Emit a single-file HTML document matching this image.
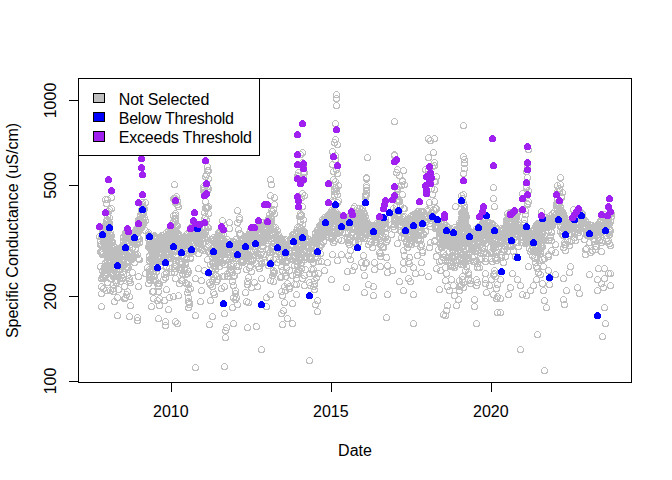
<!DOCTYPE html>
<html>
<head>
<meta charset="utf-8">
<title>Specific Conductance</title>
<style>
html, body { margin: 0; padding: 0; background: #ffffff; }
body { width: 672px; height: 480px; overflow: hidden; }
svg { display: block; }
text { font-family: "Liberation Sans", sans-serif; font-size: 16px; fill: #000000; }
</style>
</head>
<body>
<svg width="672" height="480" viewBox="0 0 672 480">
<rect x="0" y="0" width="672" height="480" fill="#ffffff"/>
<!-- data points -->
<defs><clipPath id="plotclip"><rect x="79" y="79" width="552" height="303"/></clipPath></defs>
<g clip-path="url(#plotclip)">
<g fill="none" stroke="#BEBEBE" stroke-width="1" shape-rendering="crispEdges">
<circle cx="100.5" cy="240.5" r="3"/><circle cx="99.5" cy="236.5" r="3"/><circle cx="100.5" cy="244.5" r="3"/><circle cx="100.5" cy="266.5" r="3"/><circle cx="100.5" cy="251.5" r="3"/><circle cx="101.5" cy="243.5" r="3"/><circle cx="101.5" cy="251.5" r="3"/><circle cx="101.5" cy="252.5" r="3"/><circle cx="102.5" cy="236.5" r="3"/><circle cx="101.5" cy="236.5" r="3"/><circle cx="102.5" cy="252.5" r="3"/><circle cx="102.5" cy="254.5" r="3"/><circle cx="102.5" cy="276.5" r="3"/><circle cx="102.5" cy="246.5" r="3"/><circle cx="102.5" cy="228.5" r="3"/><circle cx="102.5" cy="231.5" r="3"/><circle cx="103.5" cy="242.5" r="3"/><circle cx="102.5" cy="229.5" r="3"/><circle cx="103.5" cy="234.5" r="3"/><circle cx="104.5" cy="236.5" r="3"/><circle cx="103.5" cy="235.5" r="3"/><circle cx="104.5" cy="245.5" r="3"/><circle cx="104.5" cy="227.5" r="3"/><circle cx="104.5" cy="226.5" r="3"/><circle cx="103.5" cy="240.5" r="3"/><circle cx="103.5" cy="253.5" r="3"/><circle cx="104.5" cy="226.5" r="3"/><circle cx="103.5" cy="278.5" r="3"/><circle cx="104.5" cy="268.5" r="3"/><circle cx="105.5" cy="226.5" r="3"/><circle cx="104.5" cy="236.5" r="3"/><circle cx="104.5" cy="225.5" r="3"/><circle cx="105.5" cy="246.5" r="3"/><circle cx="104.5" cy="233.5" r="3"/><circle cx="105.5" cy="244.5" r="3"/><circle cx="105.5" cy="239.5" r="3"/><circle cx="105.5" cy="227.5" r="3"/><circle cx="105.5" cy="275.5" r="3"/><circle cx="105.5" cy="245.5" r="3"/><circle cx="105.5" cy="263.5" r="3"/><circle cx="105.5" cy="262.5" r="3"/><circle cx="105.5" cy="224.5" r="3"/><circle cx="106.5" cy="229.5" r="3"/><circle cx="105.5" cy="227.5" r="3"/><circle cx="106.5" cy="265.5" r="3"/><circle cx="106.5" cy="237.5" r="3"/><circle cx="106.5" cy="224.5" r="3"/><circle cx="107.5" cy="245.5" r="3"/><circle cx="107.5" cy="245.5" r="3"/><circle cx="107.5" cy="248.5" r="3"/><circle cx="107.5" cy="220.5" r="3"/><circle cx="107.5" cy="251.5" r="3"/><circle cx="106.5" cy="220.5" r="3"/><circle cx="106.5" cy="245.5" r="3"/><circle cx="107.5" cy="256.5" r="3"/><circle cx="107.5" cy="219.5" r="3"/><circle cx="106.5" cy="268.5" r="3"/><circle cx="107.5" cy="238.5" r="3"/><circle cx="108.5" cy="237.5" r="3"/><circle cx="108.5" cy="230.5" r="3"/><circle cx="107.5" cy="227.5" r="3"/><circle cx="108.5" cy="237.5" r="3"/><circle cx="107.5" cy="234.5" r="3"/><circle cx="107.5" cy="247.5" r="3"/><circle cx="108.5" cy="237.5" r="3"/><circle cx="108.5" cy="237.5" r="3"/><circle cx="107.5" cy="226.5" r="3"/><circle cx="108.5" cy="254.5" r="3"/><circle cx="107.5" cy="230.5" r="3"/><circle cx="107.5" cy="260.5" r="3"/><circle cx="108.5" cy="228.5" r="3"/><circle cx="107.5" cy="255.5" r="3"/><circle cx="107.5" cy="250.5" r="3"/><circle cx="108.5" cy="246.5" r="3"/><circle cx="107.5" cy="273.5" r="3"/><circle cx="108.5" cy="227.5" r="3"/><circle cx="109.5" cy="246.5" r="3"/><circle cx="108.5" cy="251.5" r="3"/><circle cx="109.5" cy="225.5" r="3"/><circle cx="108.5" cy="221.5" r="3"/><circle cx="108.5" cy="230.5" r="3"/><circle cx="108.5" cy="224.5" r="3"/><circle cx="108.5" cy="245.5" r="3"/><circle cx="109.5" cy="222.5" r="3"/><circle cx="109.5" cy="227.5" r="3"/><circle cx="110.5" cy="257.5" r="3"/><circle cx="109.5" cy="254.5" r="3"/><circle cx="110.5" cy="235.5" r="3"/><circle cx="109.5" cy="250.5" r="3"/><circle cx="110.5" cy="251.5" r="3"/><circle cx="109.5" cy="248.5" r="3"/><circle cx="110.5" cy="237.5" r="3"/><circle cx="109.5" cy="253.5" r="3"/><circle cx="109.5" cy="244.5" r="3"/><circle cx="110.5" cy="238.5" r="3"/><circle cx="111.5" cy="260.5" r="3"/><circle cx="110.5" cy="237.5" r="3"/><circle cx="110.5" cy="252.5" r="3"/><circle cx="110.5" cy="232.5" r="3"/><circle cx="111.5" cy="241.5" r="3"/><circle cx="111.5" cy="252.5" r="3"/><circle cx="110.5" cy="290.5" r="3"/><circle cx="112.5" cy="247.5" r="3"/><circle cx="111.5" cy="255.5" r="3"/><circle cx="111.5" cy="235.5" r="3"/><circle cx="111.5" cy="262.5" r="3"/><circle cx="111.5" cy="235.5" r="3"/><circle cx="111.5" cy="245.5" r="3"/><circle cx="112.5" cy="247.5" r="3"/><circle cx="113.5" cy="245.5" r="3"/><circle cx="112.5" cy="241.5" r="3"/><circle cx="112.5" cy="272.5" r="3"/><circle cx="114.5" cy="260.5" r="3"/><circle cx="114.5" cy="252.5" r="3"/><circle cx="113.5" cy="261.5" r="3"/><circle cx="114.5" cy="275.5" r="3"/><circle cx="113.5" cy="291.5" r="3"/><circle cx="115.5" cy="247.5" r="3"/><circle cx="115.5" cy="260.5" r="3"/><circle cx="115.5" cy="253.5" r="3"/><circle cx="114.5" cy="264.5" r="3"/><circle cx="115.5" cy="258.5" r="3"/><circle cx="115.5" cy="250.5" r="3"/><circle cx="115.5" cy="256.5" r="3"/><circle cx="115.5" cy="261.5" r="3"/><circle cx="115.5" cy="256.5" r="3"/><circle cx="116.5" cy="274.5" r="3"/><circle cx="116.5" cy="256.5" r="3"/><circle cx="117.5" cy="250.5" r="3"/><circle cx="117.5" cy="257.5" r="3"/><circle cx="116.5" cy="259.5" r="3"/><circle cx="117.5" cy="255.5" r="3"/><circle cx="117.5" cy="259.5" r="3"/><circle cx="117.5" cy="251.5" r="3"/><circle cx="117.5" cy="297.5" r="3"/><circle cx="117.5" cy="315.5" r="3"/><circle cx="117.5" cy="255.5" r="3"/><circle cx="117.5" cy="254.5" r="3"/><circle cx="117.5" cy="253.5" r="3"/><circle cx="117.5" cy="249.5" r="3"/><circle cx="118.5" cy="252.5" r="3"/><circle cx="118.5" cy="265.5" r="3"/><circle cx="118.5" cy="250.5" r="3"/><circle cx="118.5" cy="265.5" r="3"/><circle cx="118.5" cy="256.5" r="3"/><circle cx="118.5" cy="269.5" r="3"/><circle cx="118.5" cy="254.5" r="3"/><circle cx="119.5" cy="252.5" r="3"/><circle cx="118.5" cy="253.5" r="3"/><circle cx="119.5" cy="256.5" r="3"/><circle cx="118.5" cy="249.5" r="3"/><circle cx="118.5" cy="258.5" r="3"/><circle cx="118.5" cy="253.5" r="3"/><circle cx="118.5" cy="256.5" r="3"/><circle cx="119.5" cy="250.5" r="3"/><circle cx="118.5" cy="248.5" r="3"/><circle cx="119.5" cy="264.5" r="3"/><circle cx="120.5" cy="262.5" r="3"/><circle cx="119.5" cy="259.5" r="3"/><circle cx="119.5" cy="263.5" r="3"/><circle cx="121.5" cy="247.5" r="3"/><circle cx="120.5" cy="247.5" r="3"/><circle cx="121.5" cy="259.5" r="3"/><circle cx="120.5" cy="247.5" r="3"/><circle cx="121.5" cy="251.5" r="3"/><circle cx="122.5" cy="264.5" r="3"/><circle cx="121.5" cy="261.5" r="3"/><circle cx="122.5" cy="248.5" r="3"/><circle cx="121.5" cy="256.5" r="3"/><circle cx="121.5" cy="247.5" r="3"/><circle cx="121.5" cy="254.5" r="3"/><circle cx="121.5" cy="249.5" r="3"/><circle cx="122.5" cy="245.5" r="3"/><circle cx="122.5" cy="250.5" r="3"/><circle cx="122.5" cy="277.5" r="3"/><circle cx="123.5" cy="240.5" r="3"/><circle cx="123.5" cy="259.5" r="3"/><circle cx="123.5" cy="251.5" r="3"/><circle cx="123.5" cy="265.5" r="3"/><circle cx="123.5" cy="246.5" r="3"/><circle cx="124.5" cy="254.5" r="3"/><circle cx="123.5" cy="236.5" r="3"/><circle cx="124.5" cy="247.5" r="3"/><circle cx="123.5" cy="237.5" r="3"/><circle cx="123.5" cy="247.5" r="3"/><circle cx="125.5" cy="236.5" r="3"/><circle cx="125.5" cy="238.5" r="3"/><circle cx="125.5" cy="241.5" r="3"/><circle cx="125.5" cy="251.5" r="3"/><circle cx="125.5" cy="241.5" r="3"/><circle cx="125.5" cy="238.5" r="3"/><circle cx="125.5" cy="254.5" r="3"/><circle cx="124.5" cy="298.5" r="3"/><circle cx="126.5" cy="237.5" r="3"/><circle cx="126.5" cy="236.5" r="3"/><circle cx="125.5" cy="246.5" r="3"/><circle cx="125.5" cy="249.5" r="3"/><circle cx="125.5" cy="232.5" r="3"/><circle cx="127.5" cy="232.5" r="3"/><circle cx="127.5" cy="242.5" r="3"/><circle cx="126.5" cy="232.5" r="3"/><circle cx="127.5" cy="231.5" r="3"/><circle cx="127.5" cy="275.5" r="3"/><circle cx="127.5" cy="240.5" r="3"/><circle cx="127.5" cy="234.5" r="3"/><circle cx="128.5" cy="240.5" r="3"/><circle cx="127.5" cy="240.5" r="3"/><circle cx="127.5" cy="254.5" r="3"/><circle cx="128.5" cy="256.5" r="3"/><circle cx="127.5" cy="242.5" r="3"/><circle cx="128.5" cy="260.5" r="3"/><circle cx="128.5" cy="267.5" r="3"/><circle cx="129.5" cy="237.5" r="3"/><circle cx="128.5" cy="242.5" r="3"/><circle cx="128.5" cy="242.5" r="3"/><circle cx="128.5" cy="237.5" r="3"/><circle cx="129.5" cy="242.5" r="3"/><circle cx="129.5" cy="256.5" r="3"/><circle cx="128.5" cy="262.5" r="3"/><circle cx="130.5" cy="234.5" r="3"/><circle cx="129.5" cy="242.5" r="3"/><circle cx="129.5" cy="251.5" r="3"/><circle cx="130.5" cy="238.5" r="3"/><circle cx="129.5" cy="242.5" r="3"/><circle cx="130.5" cy="244.5" r="3"/><circle cx="131.5" cy="254.5" r="3"/><circle cx="131.5" cy="240.5" r="3"/><circle cx="132.5" cy="242.5" r="3"/><circle cx="131.5" cy="236.5" r="3"/><circle cx="132.5" cy="272.5" r="3"/><circle cx="132.5" cy="242.5" r="3"/><circle cx="132.5" cy="247.5" r="3"/><circle cx="134.5" cy="241.5" r="3"/><circle cx="133.5" cy="236.5" r="3"/><circle cx="133.5" cy="233.5" r="3"/><circle cx="134.5" cy="238.5" r="3"/><circle cx="133.5" cy="237.5" r="3"/><circle cx="133.5" cy="232.5" r="3"/><circle cx="134.5" cy="238.5" r="3"/><circle cx="133.5" cy="239.5" r="3"/><circle cx="133.5" cy="255.5" r="3"/><circle cx="134.5" cy="262.5" r="3"/><circle cx="134.5" cy="243.5" r="3"/><circle cx="134.5" cy="241.5" r="3"/><circle cx="135.5" cy="234.5" r="3"/><circle cx="134.5" cy="235.5" r="3"/><circle cx="134.5" cy="234.5" r="3"/><circle cx="135.5" cy="254.5" r="3"/><circle cx="135.5" cy="231.5" r="3"/><circle cx="136.5" cy="242.5" r="3"/><circle cx="135.5" cy="248.5" r="3"/><circle cx="136.5" cy="244.5" r="3"/><circle cx="137.5" cy="236.5" r="3"/><circle cx="136.5" cy="228.5" r="3"/><circle cx="137.5" cy="228.5" r="3"/><circle cx="137.5" cy="243.5" r="3"/><circle cx="137.5" cy="230.5" r="3"/><circle cx="138.5" cy="228.5" r="3"/><circle cx="138.5" cy="238.5" r="3"/><circle cx="137.5" cy="228.5" r="3"/><circle cx="138.5" cy="229.5" r="3"/><circle cx="138.5" cy="258.5" r="3"/><circle cx="139.5" cy="222.5" r="3"/><circle cx="138.5" cy="225.5" r="3"/><circle cx="138.5" cy="223.5" r="3"/><circle cx="139.5" cy="219.5" r="3"/><circle cx="138.5" cy="219.5" r="3"/><circle cx="139.5" cy="238.5" r="3"/><circle cx="139.5" cy="219.5" r="3"/><circle cx="139.5" cy="230.5" r="3"/><circle cx="139.5" cy="228.5" r="3"/><circle cx="138.5" cy="231.5" r="3"/><circle cx="139.5" cy="224.5" r="3"/><circle cx="139.5" cy="227.5" r="3"/><circle cx="138.5" cy="230.5" r="3"/><circle cx="139.5" cy="221.5" r="3"/><circle cx="139.5" cy="259.5" r="3"/><circle cx="139.5" cy="242.5" r="3"/><circle cx="139.5" cy="225.5" r="3"/><circle cx="140.5" cy="214.5" r="3"/><circle cx="139.5" cy="225.5" r="3"/><circle cx="140.5" cy="218.5" r="3"/><circle cx="141.5" cy="212.5" r="3"/><circle cx="141.5" cy="227.5" r="3"/><circle cx="141.5" cy="222.5" r="3"/><circle cx="142.5" cy="219.5" r="3"/><circle cx="142.5" cy="217.5" r="3"/><circle cx="142.5" cy="224.5" r="3"/><circle cx="142.5" cy="224.5" r="3"/><circle cx="143.5" cy="213.5" r="3"/><circle cx="143.5" cy="223.5" r="3"/><circle cx="142.5" cy="213.5" r="3"/><circle cx="143.5" cy="222.5" r="3"/><circle cx="144.5" cy="217.5" r="3"/><circle cx="143.5" cy="220.5" r="3"/><circle cx="145.5" cy="220.5" r="3"/><circle cx="145.5" cy="230.5" r="3"/><circle cx="148.5" cy="232.5" r="3"/><circle cx="148.5" cy="238.5" r="3"/><circle cx="148.5" cy="234.5" r="3"/><circle cx="148.5" cy="246.5" r="3"/><circle cx="149.5" cy="242.5" r="3"/><circle cx="149.5" cy="255.5" r="3"/><circle cx="149.5" cy="274.5" r="3"/><circle cx="150.5" cy="235.5" r="3"/><circle cx="150.5" cy="243.5" r="3"/><circle cx="149.5" cy="246.5" r="3"/><circle cx="149.5" cy="246.5" r="3"/><circle cx="150.5" cy="239.5" r="3"/><circle cx="149.5" cy="260.5" r="3"/><circle cx="149.5" cy="256.5" r="3"/><circle cx="150.5" cy="245.5" r="3"/><circle cx="150.5" cy="248.5" r="3"/><circle cx="151.5" cy="250.5" r="3"/><circle cx="151.5" cy="251.5" r="3"/><circle cx="150.5" cy="258.5" r="3"/><circle cx="151.5" cy="251.5" r="3"/><circle cx="151.5" cy="249.5" r="3"/><circle cx="151.5" cy="258.5" r="3"/><circle cx="151.5" cy="242.5" r="3"/><circle cx="152.5" cy="242.5" r="3"/><circle cx="152.5" cy="252.5" r="3"/><circle cx="151.5" cy="259.5" r="3"/><circle cx="152.5" cy="264.5" r="3"/><circle cx="151.5" cy="251.5" r="3"/><circle cx="152.5" cy="240.5" r="3"/><circle cx="151.5" cy="269.5" r="3"/><circle cx="152.5" cy="271.5" r="3"/><circle cx="151.5" cy="306.5" r="3"/><circle cx="153.5" cy="236.5" r="3"/><circle cx="153.5" cy="266.5" r="3"/><circle cx="152.5" cy="242.5" r="3"/><circle cx="153.5" cy="237.5" r="3"/><circle cx="152.5" cy="253.5" r="3"/><circle cx="153.5" cy="260.5" r="3"/><circle cx="153.5" cy="238.5" r="3"/><circle cx="152.5" cy="243.5" r="3"/><circle cx="153.5" cy="265.5" r="3"/><circle cx="152.5" cy="251.5" r="3"/><circle cx="152.5" cy="256.5" r="3"/><circle cx="153.5" cy="276.5" r="3"/><circle cx="153.5" cy="255.5" r="3"/><circle cx="154.5" cy="235.5" r="3"/><circle cx="154.5" cy="261.5" r="3"/><circle cx="154.5" cy="247.5" r="3"/><circle cx="154.5" cy="238.5" r="3"/><circle cx="154.5" cy="258.5" r="3"/><circle cx="153.5" cy="248.5" r="3"/><circle cx="154.5" cy="253.5" r="3"/><circle cx="153.5" cy="244.5" r="3"/><circle cx="153.5" cy="258.5" r="3"/><circle cx="153.5" cy="270.5" r="3"/><circle cx="155.5" cy="239.5" r="3"/><circle cx="154.5" cy="236.5" r="3"/><circle cx="154.5" cy="263.5" r="3"/><circle cx="154.5" cy="257.5" r="3"/><circle cx="155.5" cy="261.5" r="3"/><circle cx="154.5" cy="244.5" r="3"/><circle cx="154.5" cy="237.5" r="3"/><circle cx="156.5" cy="241.5" r="3"/><circle cx="155.5" cy="246.5" r="3"/><circle cx="155.5" cy="246.5" r="3"/><circle cx="155.5" cy="258.5" r="3"/><circle cx="155.5" cy="236.5" r="3"/><circle cx="156.5" cy="259.5" r="3"/><circle cx="155.5" cy="239.5" r="3"/><circle cx="156.5" cy="247.5" r="3"/><circle cx="155.5" cy="248.5" r="3"/><circle cx="156.5" cy="271.5" r="3"/><circle cx="156.5" cy="253.5" r="3"/><circle cx="156.5" cy="259.5" r="3"/><circle cx="157.5" cy="240.5" r="3"/><circle cx="156.5" cy="268.5" r="3"/><circle cx="157.5" cy="244.5" r="3"/><circle cx="157.5" cy="249.5" r="3"/><circle cx="156.5" cy="265.5" r="3"/><circle cx="156.5" cy="266.5" r="3"/><circle cx="156.5" cy="266.5" r="3"/><circle cx="156.5" cy="250.5" r="3"/><circle cx="158.5" cy="261.5" r="3"/><circle cx="158.5" cy="258.5" r="3"/><circle cx="158.5" cy="253.5" r="3"/><circle cx="158.5" cy="239.5" r="3"/><circle cx="157.5" cy="242.5" r="3"/><circle cx="157.5" cy="238.5" r="3"/><circle cx="158.5" cy="283.5" r="3"/><circle cx="157.5" cy="283.5" r="3"/><circle cx="157.5" cy="300.5" r="3"/><circle cx="158.5" cy="246.5" r="3"/><circle cx="159.5" cy="259.5" r="3"/><circle cx="158.5" cy="240.5" r="3"/><circle cx="159.5" cy="243.5" r="3"/><circle cx="158.5" cy="245.5" r="3"/><circle cx="159.5" cy="252.5" r="3"/><circle cx="158.5" cy="242.5" r="3"/><circle cx="159.5" cy="237.5" r="3"/><circle cx="158.5" cy="257.5" r="3"/><circle cx="159.5" cy="283.5" r="3"/><circle cx="159.5" cy="245.5" r="3"/><circle cx="159.5" cy="258.5" r="3"/><circle cx="160.5" cy="265.5" r="3"/><circle cx="160.5" cy="236.5" r="3"/><circle cx="159.5" cy="258.5" r="3"/><circle cx="160.5" cy="244.5" r="3"/><circle cx="159.5" cy="246.5" r="3"/><circle cx="159.5" cy="240.5" r="3"/><circle cx="161.5" cy="260.5" r="3"/><circle cx="160.5" cy="237.5" r="3"/><circle cx="160.5" cy="248.5" r="3"/><circle cx="160.5" cy="238.5" r="3"/><circle cx="160.5" cy="242.5" r="3"/><circle cx="161.5" cy="235.5" r="3"/><circle cx="161.5" cy="239.5" r="3"/><circle cx="160.5" cy="239.5" r="3"/><circle cx="162.5" cy="241.5" r="3"/><circle cx="162.5" cy="252.5" r="3"/><circle cx="162.5" cy="241.5" r="3"/><circle cx="162.5" cy="254.5" r="3"/><circle cx="162.5" cy="243.5" r="3"/><circle cx="162.5" cy="239.5" r="3"/><circle cx="163.5" cy="255.5" r="3"/><circle cx="163.5" cy="259.5" r="3"/><circle cx="163.5" cy="241.5" r="3"/><circle cx="163.5" cy="244.5" r="3"/><circle cx="162.5" cy="245.5" r="3"/><circle cx="163.5" cy="242.5" r="3"/><circle cx="162.5" cy="248.5" r="3"/><circle cx="162.5" cy="237.5" r="3"/><circle cx="163.5" cy="240.5" r="3"/><circle cx="164.5" cy="244.5" r="3"/><circle cx="163.5" cy="244.5" r="3"/><circle cx="164.5" cy="262.5" r="3"/><circle cx="164.5" cy="257.5" r="3"/><circle cx="163.5" cy="248.5" r="3"/><circle cx="163.5" cy="242.5" r="3"/><circle cx="163.5" cy="255.5" r="3"/><circle cx="164.5" cy="237.5" r="3"/><circle cx="165.5" cy="246.5" r="3"/><circle cx="165.5" cy="260.5" r="3"/><circle cx="165.5" cy="325.5" r="3"/><circle cx="165.5" cy="252.5" r="3"/><circle cx="166.5" cy="251.5" r="3"/><circle cx="166.5" cy="232.5" r="3"/><circle cx="165.5" cy="243.5" r="3"/><circle cx="166.5" cy="249.5" r="3"/><circle cx="165.5" cy="247.5" r="3"/><circle cx="165.5" cy="240.5" r="3"/><circle cx="165.5" cy="277.5" r="3"/><circle cx="166.5" cy="266.5" r="3"/><circle cx="167.5" cy="234.5" r="3"/><circle cx="166.5" cy="244.5" r="3"/><circle cx="167.5" cy="243.5" r="3"/><circle cx="166.5" cy="247.5" r="3"/><circle cx="167.5" cy="244.5" r="3"/><circle cx="167.5" cy="251.5" r="3"/><circle cx="167.5" cy="251.5" r="3"/><circle cx="167.5" cy="249.5" r="3"/><circle cx="168.5" cy="244.5" r="3"/><circle cx="168.5" cy="258.5" r="3"/><circle cx="168.5" cy="248.5" r="3"/><circle cx="168.5" cy="245.5" r="3"/><circle cx="168.5" cy="244.5" r="3"/><circle cx="168.5" cy="254.5" r="3"/><circle cx="167.5" cy="252.5" r="3"/><circle cx="167.5" cy="257.5" r="3"/><circle cx="168.5" cy="235.5" r="3"/><circle cx="169.5" cy="235.5" r="3"/><circle cx="168.5" cy="230.5" r="3"/><circle cx="168.5" cy="231.5" r="3"/><circle cx="168.5" cy="257.5" r="3"/><circle cx="169.5" cy="258.5" r="3"/><circle cx="168.5" cy="242.5" r="3"/><circle cx="169.5" cy="253.5" r="3"/><circle cx="169.5" cy="262.5" r="3"/><circle cx="169.5" cy="244.5" r="3"/><circle cx="169.5" cy="233.5" r="3"/><circle cx="169.5" cy="239.5" r="3"/><circle cx="170.5" cy="226.5" r="3"/><circle cx="169.5" cy="232.5" r="3"/><circle cx="170.5" cy="244.5" r="3"/><circle cx="169.5" cy="237.5" r="3"/><circle cx="170.5" cy="245.5" r="3"/><circle cx="170.5" cy="236.5" r="3"/><circle cx="170.5" cy="231.5" r="3"/><circle cx="169.5" cy="268.5" r="3"/><circle cx="171.5" cy="249.5" r="3"/><circle cx="170.5" cy="229.5" r="3"/><circle cx="171.5" cy="244.5" r="3"/><circle cx="170.5" cy="229.5" r="3"/><circle cx="171.5" cy="237.5" r="3"/><circle cx="170.5" cy="228.5" r="3"/><circle cx="170.5" cy="262.5" r="3"/><circle cx="171.5" cy="272.5" r="3"/><circle cx="171.5" cy="250.5" r="3"/><circle cx="172.5" cy="237.5" r="3"/><circle cx="171.5" cy="257.5" r="3"/><circle cx="171.5" cy="244.5" r="3"/><circle cx="171.5" cy="227.5" r="3"/><circle cx="172.5" cy="232.5" r="3"/><circle cx="172.5" cy="246.5" r="3"/><circle cx="172.5" cy="226.5" r="3"/><circle cx="172.5" cy="241.5" r="3"/><circle cx="173.5" cy="244.5" r="3"/><circle cx="173.5" cy="241.5" r="3"/><circle cx="172.5" cy="241.5" r="3"/><circle cx="173.5" cy="238.5" r="3"/><circle cx="173.5" cy="221.5" r="3"/><circle cx="173.5" cy="215.5" r="3"/><circle cx="174.5" cy="238.5" r="3"/><circle cx="173.5" cy="233.5" r="3"/><circle cx="174.5" cy="227.5" r="3"/><circle cx="173.5" cy="222.5" r="3"/><circle cx="174.5" cy="231.5" r="3"/><circle cx="174.5" cy="266.5" r="3"/><circle cx="173.5" cy="296.5" r="3"/><circle cx="175.5" cy="213.5" r="3"/><circle cx="175.5" cy="237.5" r="3"/><circle cx="175.5" cy="235.5" r="3"/><circle cx="175.5" cy="221.5" r="3"/><circle cx="174.5" cy="244.5" r="3"/><circle cx="175.5" cy="234.5" r="3"/><circle cx="174.5" cy="239.5" r="3"/><circle cx="175.5" cy="218.5" r="3"/><circle cx="174.5" cy="237.5" r="3"/><circle cx="175.5" cy="250.5" r="3"/><circle cx="174.5" cy="268.5" r="3"/><circle cx="174.5" cy="272.5" r="3"/><circle cx="175.5" cy="278.5" r="3"/><circle cx="175.5" cy="321.5" r="3"/><circle cx="175.5" cy="249.5" r="3"/><circle cx="176.5" cy="236.5" r="3"/><circle cx="175.5" cy="221.5" r="3"/><circle cx="175.5" cy="245.5" r="3"/><circle cx="176.5" cy="237.5" r="3"/><circle cx="175.5" cy="246.5" r="3"/><circle cx="175.5" cy="226.5" r="3"/><circle cx="175.5" cy="215.5" r="3"/><circle cx="176.5" cy="224.5" r="3"/><circle cx="176.5" cy="265.5" r="3"/><circle cx="176.5" cy="225.5" r="3"/><circle cx="177.5" cy="250.5" r="3"/><circle cx="176.5" cy="224.5" r="3"/><circle cx="177.5" cy="244.5" r="3"/><circle cx="176.5" cy="236.5" r="3"/><circle cx="177.5" cy="233.5" r="3"/><circle cx="177.5" cy="225.5" r="3"/><circle cx="176.5" cy="231.5" r="3"/><circle cx="177.5" cy="246.5" r="3"/><circle cx="178.5" cy="233.5" r="3"/><circle cx="178.5" cy="236.5" r="3"/><circle cx="177.5" cy="234.5" r="3"/><circle cx="177.5" cy="247.5" r="3"/><circle cx="178.5" cy="242.5" r="3"/><circle cx="177.5" cy="245.5" r="3"/><circle cx="177.5" cy="237.5" r="3"/><circle cx="179.5" cy="235.5" r="3"/><circle cx="179.5" cy="238.5" r="3"/><circle cx="179.5" cy="241.5" r="3"/><circle cx="179.5" cy="249.5" r="3"/><circle cx="179.5" cy="243.5" r="3"/><circle cx="179.5" cy="241.5" r="3"/><circle cx="180.5" cy="241.5" r="3"/><circle cx="179.5" cy="249.5" r="3"/><circle cx="179.5" cy="262.5" r="3"/><circle cx="180.5" cy="264.5" r="3"/><circle cx="181.5" cy="244.5" r="3"/><circle cx="180.5" cy="251.5" r="3"/><circle cx="181.5" cy="239.5" r="3"/><circle cx="181.5" cy="243.5" r="3"/><circle cx="181.5" cy="264.5" r="3"/><circle cx="181.5" cy="267.5" r="3"/><circle cx="181.5" cy="264.5" r="3"/><circle cx="182.5" cy="243.5" r="3"/><circle cx="181.5" cy="243.5" r="3"/><circle cx="181.5" cy="244.5" r="3"/><circle cx="182.5" cy="247.5" r="3"/><circle cx="182.5" cy="255.5" r="3"/><circle cx="183.5" cy="244.5" r="3"/><circle cx="183.5" cy="252.5" r="3"/><circle cx="182.5" cy="239.5" r="3"/><circle cx="182.5" cy="273.5" r="3"/><circle cx="182.5" cy="280.5" r="3"/><circle cx="183.5" cy="243.5" r="3"/><circle cx="184.5" cy="241.5" r="3"/><circle cx="184.5" cy="250.5" r="3"/><circle cx="184.5" cy="240.5" r="3"/><circle cx="185.5" cy="247.5" r="3"/><circle cx="184.5" cy="245.5" r="3"/><circle cx="185.5" cy="238.5" r="3"/><circle cx="186.5" cy="237.5" r="3"/><circle cx="186.5" cy="247.5" r="3"/><circle cx="186.5" cy="237.5" r="3"/><circle cx="186.5" cy="258.5" r="3"/><circle cx="186.5" cy="238.5" r="3"/><circle cx="185.5" cy="250.5" r="3"/><circle cx="186.5" cy="234.5" r="3"/><circle cx="187.5" cy="233.5" r="3"/><circle cx="187.5" cy="248.5" r="3"/><circle cx="186.5" cy="283.5" r="3"/><circle cx="188.5" cy="241.5" r="3"/><circle cx="188.5" cy="234.5" r="3"/><circle cx="189.5" cy="253.5" r="3"/><circle cx="190.5" cy="241.5" r="3"/><circle cx="190.5" cy="258.5" r="3"/><circle cx="190.5" cy="229.5" r="3"/><circle cx="191.5" cy="233.5" r="3"/><circle cx="190.5" cy="227.5" r="3"/><circle cx="190.5" cy="234.5" r="3"/><circle cx="191.5" cy="240.5" r="3"/><circle cx="192.5" cy="234.5" r="3"/><circle cx="192.5" cy="229.5" r="3"/><circle cx="192.5" cy="237.5" r="3"/><circle cx="191.5" cy="238.5" r="3"/><circle cx="191.5" cy="235.5" r="3"/><circle cx="191.5" cy="248.5" r="3"/><circle cx="192.5" cy="246.5" r="3"/><circle cx="192.5" cy="226.5" r="3"/><circle cx="193.5" cy="237.5" r="3"/><circle cx="193.5" cy="224.5" r="3"/><circle cx="193.5" cy="231.5" r="3"/><circle cx="193.5" cy="227.5" r="3"/><circle cx="195.5" cy="234.5" r="3"/><circle cx="194.5" cy="238.5" r="3"/><circle cx="196.5" cy="228.5" r="3"/><circle cx="195.5" cy="235.5" r="3"/><circle cx="195.5" cy="229.5" r="3"/><circle cx="196.5" cy="225.5" r="3"/><circle cx="195.5" cy="248.5" r="3"/><circle cx="196.5" cy="246.5" r="3"/><circle cx="197.5" cy="228.5" r="3"/><circle cx="197.5" cy="231.5" r="3"/><circle cx="197.5" cy="241.5" r="3"/><circle cx="196.5" cy="234.5" r="3"/><circle cx="197.5" cy="232.5" r="3"/><circle cx="197.5" cy="234.5" r="3"/><circle cx="198.5" cy="228.5" r="3"/><circle cx="198.5" cy="253.5" r="3"/><circle cx="198.5" cy="240.5" r="3"/><circle cx="199.5" cy="232.5" r="3"/><circle cx="198.5" cy="237.5" r="3"/><circle cx="199.5" cy="230.5" r="3"/><circle cx="199.5" cy="246.5" r="3"/><circle cx="199.5" cy="240.5" r="3"/><circle cx="199.5" cy="242.5" r="3"/><circle cx="200.5" cy="235.5" r="3"/><circle cx="200.5" cy="232.5" r="3"/><circle cx="200.5" cy="241.5" r="3"/><circle cx="200.5" cy="243.5" r="3"/><circle cx="200.5" cy="244.5" r="3"/><circle cx="200.5" cy="236.5" r="3"/><circle cx="201.5" cy="238.5" r="3"/><circle cx="201.5" cy="249.5" r="3"/><circle cx="202.5" cy="233.5" r="3"/><circle cx="201.5" cy="235.5" r="3"/><circle cx="201.5" cy="234.5" r="3"/><circle cx="202.5" cy="237.5" r="3"/><circle cx="203.5" cy="235.5" r="3"/><circle cx="204.5" cy="270.5" r="3"/><circle cx="204.5" cy="248.5" r="3"/><circle cx="206.5" cy="236.5" r="3"/><circle cx="207.5" cy="246.5" r="3"/><circle cx="210.5" cy="300.5" r="3"/><circle cx="210.5" cy="239.5" r="3"/><circle cx="212.5" cy="239.5" r="3"/><circle cx="212.5" cy="250.5" r="3"/><circle cx="213.5" cy="247.5" r="3"/><circle cx="213.5" cy="241.5" r="3"/><circle cx="212.5" cy="252.5" r="3"/><circle cx="214.5" cy="252.5" r="3"/><circle cx="213.5" cy="250.5" r="3"/><circle cx="213.5" cy="246.5" r="3"/><circle cx="213.5" cy="237.5" r="3"/><circle cx="215.5" cy="243.5" r="3"/><circle cx="214.5" cy="239.5" r="3"/><circle cx="214.5" cy="251.5" r="3"/><circle cx="214.5" cy="255.5" r="3"/><circle cx="215.5" cy="261.5" r="3"/><circle cx="215.5" cy="248.5" r="3"/><circle cx="214.5" cy="294.5" r="3"/><circle cx="216.5" cy="253.5" r="3"/><circle cx="215.5" cy="258.5" r="3"/><circle cx="216.5" cy="245.5" r="3"/><circle cx="216.5" cy="258.5" r="3"/><circle cx="216.5" cy="256.5" r="3"/><circle cx="216.5" cy="238.5" r="3"/><circle cx="215.5" cy="269.5" r="3"/><circle cx="215.5" cy="265.5" r="3"/><circle cx="217.5" cy="262.5" r="3"/><circle cx="216.5" cy="251.5" r="3"/><circle cx="216.5" cy="253.5" r="3"/><circle cx="216.5" cy="258.5" r="3"/><circle cx="216.5" cy="255.5" r="3"/><circle cx="216.5" cy="254.5" r="3"/><circle cx="217.5" cy="241.5" r="3"/><circle cx="217.5" cy="244.5" r="3"/><circle cx="216.5" cy="246.5" r="3"/><circle cx="217.5" cy="279.5" r="3"/><circle cx="217.5" cy="236.5" r="3"/><circle cx="218.5" cy="244.5" r="3"/><circle cx="217.5" cy="243.5" r="3"/><circle cx="217.5" cy="243.5" r="3"/><circle cx="218.5" cy="235.5" r="3"/><circle cx="218.5" cy="246.5" r="3"/><circle cx="217.5" cy="250.5" r="3"/><circle cx="217.5" cy="242.5" r="3"/><circle cx="217.5" cy="250.5" r="3"/><circle cx="217.5" cy="237.5" r="3"/><circle cx="217.5" cy="276.5" r="3"/><circle cx="219.5" cy="245.5" r="3"/><circle cx="218.5" cy="235.5" r="3"/><circle cx="219.5" cy="259.5" r="3"/><circle cx="218.5" cy="232.5" r="3"/><circle cx="219.5" cy="250.5" r="3"/><circle cx="219.5" cy="266.5" r="3"/><circle cx="219.5" cy="233.5" r="3"/><circle cx="220.5" cy="238.5" r="3"/><circle cx="219.5" cy="232.5" r="3"/><circle cx="220.5" cy="237.5" r="3"/><circle cx="219.5" cy="262.5" r="3"/><circle cx="220.5" cy="251.5" r="3"/><circle cx="221.5" cy="252.5" r="3"/><circle cx="221.5" cy="243.5" r="3"/><circle cx="221.5" cy="249.5" r="3"/><circle cx="221.5" cy="233.5" r="3"/><circle cx="220.5" cy="241.5" r="3"/><circle cx="220.5" cy="254.5" r="3"/><circle cx="221.5" cy="238.5" r="3"/><circle cx="221.5" cy="288.5" r="3"/><circle cx="222.5" cy="252.5" r="3"/><circle cx="222.5" cy="262.5" r="3"/><circle cx="221.5" cy="235.5" r="3"/><circle cx="221.5" cy="248.5" r="3"/><circle cx="222.5" cy="239.5" r="3"/><circle cx="222.5" cy="247.5" r="3"/><circle cx="222.5" cy="238.5" r="3"/><circle cx="222.5" cy="253.5" r="3"/><circle cx="223.5" cy="239.5" r="3"/><circle cx="222.5" cy="276.5" r="3"/><circle cx="224.5" cy="254.5" r="3"/><circle cx="224.5" cy="254.5" r="3"/><circle cx="223.5" cy="234.5" r="3"/><circle cx="224.5" cy="249.5" r="3"/><circle cx="224.5" cy="241.5" r="3"/><circle cx="224.5" cy="264.5" r="3"/><circle cx="225.5" cy="260.5" r="3"/><circle cx="224.5" cy="257.5" r="3"/><circle cx="224.5" cy="243.5" r="3"/><circle cx="224.5" cy="276.5" r="3"/><circle cx="226.5" cy="258.5" r="3"/><circle cx="226.5" cy="247.5" r="3"/><circle cx="225.5" cy="248.5" r="3"/><circle cx="226.5" cy="259.5" r="3"/><circle cx="226.5" cy="253.5" r="3"/><circle cx="226.5" cy="244.5" r="3"/><circle cx="226.5" cy="244.5" r="3"/><circle cx="227.5" cy="239.5" r="3"/><circle cx="226.5" cy="249.5" r="3"/><circle cx="227.5" cy="245.5" r="3"/><circle cx="227.5" cy="273.5" r="3"/><circle cx="227.5" cy="245.5" r="3"/><circle cx="228.5" cy="244.5" r="3"/><circle cx="228.5" cy="251.5" r="3"/><circle cx="227.5" cy="242.5" r="3"/><circle cx="227.5" cy="276.5" r="3"/><circle cx="229.5" cy="245.5" r="3"/><circle cx="229.5" cy="254.5" r="3"/><circle cx="230.5" cy="252.5" r="3"/><circle cx="229.5" cy="245.5" r="3"/><circle cx="230.5" cy="257.5" r="3"/><circle cx="229.5" cy="272.5" r="3"/><circle cx="230.5" cy="265.5" r="3"/><circle cx="230.5" cy="241.5" r="3"/><circle cx="231.5" cy="244.5" r="3"/><circle cx="231.5" cy="247.5" r="3"/><circle cx="230.5" cy="254.5" r="3"/><circle cx="231.5" cy="264.5" r="3"/><circle cx="232.5" cy="244.5" r="3"/><circle cx="232.5" cy="241.5" r="3"/><circle cx="231.5" cy="242.5" r="3"/><circle cx="232.5" cy="246.5" r="3"/><circle cx="231.5" cy="243.5" r="3"/><circle cx="232.5" cy="244.5" r="3"/><circle cx="232.5" cy="247.5" r="3"/><circle cx="232.5" cy="250.5" r="3"/><circle cx="233.5" cy="252.5" r="3"/><circle cx="233.5" cy="251.5" r="3"/><circle cx="233.5" cy="249.5" r="3"/><circle cx="233.5" cy="253.5" r="3"/><circle cx="232.5" cy="281.5" r="3"/><circle cx="232.5" cy="272.5" r="3"/><circle cx="233.5" cy="276.5" r="3"/><circle cx="233.5" cy="257.5" r="3"/><circle cx="233.5" cy="245.5" r="3"/><circle cx="233.5" cy="249.5" r="3"/><circle cx="233.5" cy="241.5" r="3"/><circle cx="233.5" cy="263.5" r="3"/><circle cx="235.5" cy="239.5" r="3"/><circle cx="234.5" cy="242.5" r="3"/><circle cx="235.5" cy="245.5" r="3"/><circle cx="234.5" cy="275.5" r="3"/><circle cx="235.5" cy="290.5" r="3"/><circle cx="236.5" cy="255.5" r="3"/><circle cx="235.5" cy="246.5" r="3"/><circle cx="236.5" cy="253.5" r="3"/><circle cx="235.5" cy="258.5" r="3"/><circle cx="236.5" cy="266.5" r="3"/><circle cx="236.5" cy="297.5" r="3"/><circle cx="235.5" cy="299.5" r="3"/><circle cx="236.5" cy="244.5" r="3"/><circle cx="236.5" cy="246.5" r="3"/><circle cx="237.5" cy="246.5" r="3"/><circle cx="237.5" cy="250.5" r="3"/><circle cx="237.5" cy="304.5" r="3"/><circle cx="238.5" cy="244.5" r="3"/><circle cx="238.5" cy="245.5" r="3"/><circle cx="238.5" cy="266.5" r="3"/><circle cx="237.5" cy="270.5" r="3"/><circle cx="239.5" cy="240.5" r="3"/><circle cx="239.5" cy="243.5" r="3"/><circle cx="239.5" cy="253.5" r="3"/><circle cx="238.5" cy="253.5" r="3"/><circle cx="238.5" cy="253.5" r="3"/><circle cx="240.5" cy="247.5" r="3"/><circle cx="239.5" cy="248.5" r="3"/><circle cx="240.5" cy="241.5" r="3"/><circle cx="240.5" cy="247.5" r="3"/><circle cx="240.5" cy="241.5" r="3"/><circle cx="240.5" cy="255.5" r="3"/><circle cx="240.5" cy="249.5" r="3"/><circle cx="240.5" cy="244.5" r="3"/><circle cx="242.5" cy="241.5" r="3"/><circle cx="241.5" cy="246.5" r="3"/><circle cx="242.5" cy="243.5" r="3"/><circle cx="241.5" cy="259.5" r="3"/><circle cx="242.5" cy="256.5" r="3"/><circle cx="241.5" cy="247.5" r="3"/><circle cx="241.5" cy="262.5" r="3"/><circle cx="241.5" cy="241.5" r="3"/><circle cx="242.5" cy="262.5" r="3"/><circle cx="243.5" cy="240.5" r="3"/><circle cx="242.5" cy="254.5" r="3"/><circle cx="243.5" cy="238.5" r="3"/><circle cx="243.5" cy="243.5" r="3"/><circle cx="243.5" cy="244.5" r="3"/><circle cx="242.5" cy="260.5" r="3"/><circle cx="243.5" cy="261.5" r="3"/><circle cx="242.5" cy="249.5" r="3"/><circle cx="242.5" cy="255.5" r="3"/><circle cx="243.5" cy="239.5" r="3"/><circle cx="244.5" cy="252.5" r="3"/><circle cx="243.5" cy="249.5" r="3"/><circle cx="243.5" cy="251.5" r="3"/><circle cx="244.5" cy="247.5" r="3"/><circle cx="245.5" cy="250.5" r="3"/><circle cx="244.5" cy="244.5" r="3"/><circle cx="244.5" cy="250.5" r="3"/><circle cx="245.5" cy="238.5" r="3"/><circle cx="245.5" cy="236.5" r="3"/><circle cx="245.5" cy="244.5" r="3"/><circle cx="246.5" cy="253.5" r="3"/><circle cx="245.5" cy="237.5" r="3"/><circle cx="245.5" cy="246.5" r="3"/><circle cx="246.5" cy="256.5" r="3"/><circle cx="245.5" cy="252.5" r="3"/><circle cx="246.5" cy="252.5" r="3"/><circle cx="247.5" cy="242.5" r="3"/><circle cx="247.5" cy="240.5" r="3"/><circle cx="246.5" cy="258.5" r="3"/><circle cx="247.5" cy="239.5" r="3"/><circle cx="247.5" cy="236.5" r="3"/><circle cx="248.5" cy="238.5" r="3"/><circle cx="247.5" cy="327.5" r="3"/><circle cx="249.5" cy="256.5" r="3"/><circle cx="249.5" cy="232.5" r="3"/><circle cx="248.5" cy="238.5" r="3"/><circle cx="248.5" cy="239.5" r="3"/><circle cx="248.5" cy="236.5" r="3"/><circle cx="249.5" cy="267.5" r="3"/><circle cx="250.5" cy="252.5" r="3"/><circle cx="249.5" cy="238.5" r="3"/><circle cx="249.5" cy="245.5" r="3"/><circle cx="249.5" cy="244.5" r="3"/><circle cx="250.5" cy="237.5" r="3"/><circle cx="250.5" cy="239.5" r="3"/><circle cx="250.5" cy="236.5" r="3"/><circle cx="249.5" cy="256.5" r="3"/><circle cx="250.5" cy="235.5" r="3"/><circle cx="251.5" cy="237.5" r="3"/><circle cx="250.5" cy="231.5" r="3"/><circle cx="250.5" cy="234.5" r="3"/><circle cx="250.5" cy="229.5" r="3"/><circle cx="251.5" cy="238.5" r="3"/><circle cx="250.5" cy="259.5" r="3"/><circle cx="250.5" cy="265.5" r="3"/><circle cx="251.5" cy="271.5" r="3"/><circle cx="251.5" cy="251.5" r="3"/><circle cx="251.5" cy="244.5" r="3"/><circle cx="251.5" cy="244.5" r="3"/><circle cx="251.5" cy="233.5" r="3"/><circle cx="252.5" cy="241.5" r="3"/><circle cx="252.5" cy="259.5" r="3"/><circle cx="251.5" cy="261.5" r="3"/><circle cx="251.5" cy="287.5" r="3"/><circle cx="252.5" cy="239.5" r="3"/><circle cx="253.5" cy="228.5" r="3"/><circle cx="253.5" cy="227.5" r="3"/><circle cx="253.5" cy="240.5" r="3"/><circle cx="253.5" cy="231.5" r="3"/><circle cx="253.5" cy="250.5" r="3"/><circle cx="252.5" cy="243.5" r="3"/><circle cx="252.5" cy="231.5" r="3"/><circle cx="253.5" cy="240.5" r="3"/><circle cx="253.5" cy="232.5" r="3"/><circle cx="253.5" cy="229.5" r="3"/><circle cx="254.5" cy="230.5" r="3"/><circle cx="253.5" cy="241.5" r="3"/><circle cx="254.5" cy="237.5" r="3"/><circle cx="253.5" cy="250.5" r="3"/><circle cx="255.5" cy="230.5" r="3"/><circle cx="254.5" cy="235.5" r="3"/><circle cx="255.5" cy="227.5" r="3"/><circle cx="255.5" cy="240.5" r="3"/><circle cx="255.5" cy="228.5" r="3"/><circle cx="255.5" cy="227.5" r="3"/><circle cx="254.5" cy="236.5" r="3"/><circle cx="255.5" cy="241.5" r="3"/><circle cx="254.5" cy="241.5" r="3"/><circle cx="254.5" cy="282.5" r="3"/><circle cx="255.5" cy="246.5" r="3"/><circle cx="255.5" cy="249.5" r="3"/><circle cx="257.5" cy="236.5" r="3"/><circle cx="257.5" cy="234.5" r="3"/><circle cx="256.5" cy="239.5" r="3"/><circle cx="256.5" cy="227.5" r="3"/><circle cx="256.5" cy="235.5" r="3"/><circle cx="256.5" cy="238.5" r="3"/><circle cx="258.5" cy="237.5" r="3"/><circle cx="258.5" cy="233.5" r="3"/><circle cx="257.5" cy="238.5" r="3"/><circle cx="257.5" cy="228.5" r="3"/><circle cx="257.5" cy="243.5" r="3"/><circle cx="258.5" cy="227.5" r="3"/><circle cx="258.5" cy="227.5" r="3"/><circle cx="257.5" cy="245.5" r="3"/><circle cx="258.5" cy="255.5" r="3"/><circle cx="257.5" cy="253.5" r="3"/><circle cx="258.5" cy="235.5" r="3"/><circle cx="258.5" cy="232.5" r="3"/><circle cx="258.5" cy="237.5" r="3"/><circle cx="258.5" cy="228.5" r="3"/><circle cx="258.5" cy="234.5" r="3"/><circle cx="258.5" cy="231.5" r="3"/><circle cx="258.5" cy="266.5" r="3"/><circle cx="259.5" cy="233.5" r="3"/><circle cx="259.5" cy="235.5" r="3"/><circle cx="259.5" cy="228.5" r="3"/><circle cx="261.5" cy="241.5" r="3"/><circle cx="260.5" cy="240.5" r="3"/><circle cx="260.5" cy="232.5" r="3"/><circle cx="260.5" cy="254.5" r="3"/><circle cx="261.5" cy="261.5" r="3"/><circle cx="261.5" cy="238.5" r="3"/><circle cx="262.5" cy="225.5" r="3"/><circle cx="261.5" cy="226.5" r="3"/><circle cx="261.5" cy="239.5" r="3"/><circle cx="261.5" cy="229.5" r="3"/><circle cx="262.5" cy="242.5" r="3"/><circle cx="261.5" cy="242.5" r="3"/><circle cx="263.5" cy="228.5" r="3"/><circle cx="262.5" cy="222.5" r="3"/><circle cx="262.5" cy="239.5" r="3"/><circle cx="263.5" cy="254.5" r="3"/><circle cx="263.5" cy="222.5" r="3"/><circle cx="264.5" cy="236.5" r="3"/><circle cx="264.5" cy="230.5" r="3"/><circle cx="263.5" cy="241.5" r="3"/><circle cx="264.5" cy="236.5" r="3"/><circle cx="263.5" cy="236.5" r="3"/><circle cx="265.5" cy="235.5" r="3"/><circle cx="264.5" cy="239.5" r="3"/><circle cx="264.5" cy="226.5" r="3"/><circle cx="264.5" cy="237.5" r="3"/><circle cx="264.5" cy="228.5" r="3"/><circle cx="265.5" cy="232.5" r="3"/><circle cx="264.5" cy="233.5" r="3"/><circle cx="265.5" cy="224.5" r="3"/><circle cx="265.5" cy="226.5" r="3"/><circle cx="265.5" cy="224.5" r="3"/><circle cx="265.5" cy="229.5" r="3"/><circle cx="265.5" cy="262.5" r="3"/><circle cx="267.5" cy="236.5" r="3"/><circle cx="266.5" cy="221.5" r="3"/><circle cx="267.5" cy="236.5" r="3"/><circle cx="266.5" cy="232.5" r="3"/><circle cx="267.5" cy="220.5" r="3"/><circle cx="267.5" cy="228.5" r="3"/><circle cx="267.5" cy="223.5" r="3"/><circle cx="268.5" cy="221.5" r="3"/><circle cx="267.5" cy="231.5" r="3"/><circle cx="267.5" cy="234.5" r="3"/><circle cx="268.5" cy="220.5" r="3"/><circle cx="268.5" cy="249.5" r="3"/><circle cx="269.5" cy="230.5" r="3"/><circle cx="269.5" cy="229.5" r="3"/><circle cx="268.5" cy="219.5" r="3"/><circle cx="269.5" cy="222.5" r="3"/><circle cx="268.5" cy="218.5" r="3"/><circle cx="268.5" cy="223.5" r="3"/><circle cx="269.5" cy="221.5" r="3"/><circle cx="268.5" cy="240.5" r="3"/><circle cx="270.5" cy="228.5" r="3"/><circle cx="270.5" cy="227.5" r="3"/><circle cx="270.5" cy="217.5" r="3"/><circle cx="270.5" cy="229.5" r="3"/><circle cx="269.5" cy="221.5" r="3"/><circle cx="270.5" cy="218.5" r="3"/><circle cx="269.5" cy="252.5" r="3"/><circle cx="270.5" cy="258.5" r="3"/><circle cx="270.5" cy="220.5" r="3"/><circle cx="270.5" cy="225.5" r="3"/><circle cx="270.5" cy="230.5" r="3"/><circle cx="271.5" cy="241.5" r="3"/><circle cx="271.5" cy="217.5" r="3"/><circle cx="270.5" cy="217.5" r="3"/><circle cx="271.5" cy="247.5" r="3"/><circle cx="271.5" cy="221.5" r="3"/><circle cx="271.5" cy="234.5" r="3"/><circle cx="271.5" cy="233.5" r="3"/><circle cx="271.5" cy="238.5" r="3"/><circle cx="272.5" cy="228.5" r="3"/><circle cx="272.5" cy="232.5" r="3"/><circle cx="273.5" cy="237.5" r="3"/><circle cx="273.5" cy="227.5" r="3"/><circle cx="273.5" cy="249.5" r="3"/><circle cx="273.5" cy="229.5" r="3"/><circle cx="273.5" cy="247.5" r="3"/><circle cx="273.5" cy="272.5" r="3"/><circle cx="274.5" cy="271.5" r="3"/><circle cx="274.5" cy="231.5" r="3"/><circle cx="275.5" cy="232.5" r="3"/><circle cx="274.5" cy="243.5" r="3"/><circle cx="275.5" cy="227.5" r="3"/><circle cx="276.5" cy="238.5" r="3"/><circle cx="276.5" cy="236.5" r="3"/><circle cx="277.5" cy="235.5" r="3"/><circle cx="276.5" cy="237.5" r="3"/><circle cx="276.5" cy="236.5" r="3"/><circle cx="277.5" cy="230.5" r="3"/><circle cx="278.5" cy="239.5" r="3"/><circle cx="277.5" cy="239.5" r="3"/><circle cx="277.5" cy="235.5" r="3"/><circle cx="277.5" cy="235.5" r="3"/><circle cx="277.5" cy="243.5" r="3"/><circle cx="277.5" cy="239.5" r="3"/><circle cx="277.5" cy="262.5" r="3"/><circle cx="278.5" cy="241.5" r="3"/><circle cx="278.5" cy="234.5" r="3"/><circle cx="280.5" cy="241.5" r="3"/><circle cx="281.5" cy="243.5" r="3"/><circle cx="280.5" cy="239.5" r="3"/><circle cx="281.5" cy="238.5" r="3"/><circle cx="280.5" cy="238.5" r="3"/><circle cx="281.5" cy="243.5" r="3"/><circle cx="282.5" cy="240.5" r="3"/><circle cx="282.5" cy="249.5" r="3"/><circle cx="281.5" cy="257.5" r="3"/><circle cx="283.5" cy="243.5" r="3"/><circle cx="282.5" cy="245.5" r="3"/><circle cx="282.5" cy="245.5" r="3"/><circle cx="284.5" cy="247.5" r="3"/><circle cx="284.5" cy="257.5" r="3"/><circle cx="284.5" cy="255.5" r="3"/><circle cx="284.5" cy="243.5" r="3"/><circle cx="284.5" cy="245.5" r="3"/><circle cx="284.5" cy="240.5" r="3"/><circle cx="284.5" cy="240.5" r="3"/><circle cx="284.5" cy="253.5" r="3"/><circle cx="285.5" cy="239.5" r="3"/><circle cx="286.5" cy="260.5" r="3"/><circle cx="287.5" cy="241.5" r="3"/><circle cx="288.5" cy="256.5" r="3"/><circle cx="288.5" cy="257.5" r="3"/><circle cx="290.5" cy="240.5" r="3"/><circle cx="290.5" cy="258.5" r="3"/><circle cx="291.5" cy="245.5" r="3"/><circle cx="290.5" cy="238.5" r="3"/><circle cx="291.5" cy="247.5" r="3"/><circle cx="291.5" cy="237.5" r="3"/><circle cx="291.5" cy="259.5" r="3"/><circle cx="292.5" cy="240.5" r="3"/><circle cx="291.5" cy="245.5" r="3"/><circle cx="292.5" cy="234.5" r="3"/><circle cx="292.5" cy="244.5" r="3"/><circle cx="291.5" cy="241.5" r="3"/><circle cx="292.5" cy="239.5" r="3"/><circle cx="292.5" cy="245.5" r="3"/><circle cx="292.5" cy="235.5" r="3"/><circle cx="292.5" cy="244.5" r="3"/><circle cx="292.5" cy="252.5" r="3"/><circle cx="294.5" cy="240.5" r="3"/><circle cx="294.5" cy="238.5" r="3"/><circle cx="294.5" cy="249.5" r="3"/><circle cx="294.5" cy="236.5" r="3"/><circle cx="293.5" cy="235.5" r="3"/><circle cx="295.5" cy="240.5" r="3"/><circle cx="294.5" cy="255.5" r="3"/><circle cx="294.5" cy="284.5" r="3"/><circle cx="296.5" cy="242.5" r="3"/><circle cx="296.5" cy="233.5" r="3"/><circle cx="296.5" cy="239.5" r="3"/><circle cx="295.5" cy="236.5" r="3"/><circle cx="296.5" cy="239.5" r="3"/><circle cx="296.5" cy="230.5" r="3"/><circle cx="296.5" cy="242.5" r="3"/><circle cx="296.5" cy="242.5" r="3"/><circle cx="296.5" cy="278.5" r="3"/><circle cx="297.5" cy="227.5" r="3"/><circle cx="298.5" cy="241.5" r="3"/><circle cx="297.5" cy="238.5" r="3"/><circle cx="297.5" cy="231.5" r="3"/><circle cx="297.5" cy="264.5" r="3"/><circle cx="298.5" cy="261.5" r="3"/><circle cx="297.5" cy="260.5" r="3"/><circle cx="298.5" cy="245.5" r="3"/><circle cx="298.5" cy="247.5" r="3"/><circle cx="298.5" cy="236.5" r="3"/><circle cx="299.5" cy="246.5" r="3"/><circle cx="298.5" cy="232.5" r="3"/><circle cx="298.5" cy="269.5" r="3"/><circle cx="299.5" cy="227.5" r="3"/><circle cx="300.5" cy="240.5" r="3"/><circle cx="300.5" cy="221.5" r="3"/><circle cx="299.5" cy="229.5" r="3"/><circle cx="299.5" cy="227.5" r="3"/><circle cx="300.5" cy="221.5" r="3"/><circle cx="299.5" cy="216.5" r="3"/><circle cx="299.5" cy="258.5" r="3"/><circle cx="301.5" cy="233.5" r="3"/><circle cx="301.5" cy="231.5" r="3"/><circle cx="300.5" cy="246.5" r="3"/><circle cx="300.5" cy="213.5" r="3"/><circle cx="301.5" cy="228.5" r="3"/><circle cx="300.5" cy="233.5" r="3"/><circle cx="300.5" cy="215.5" r="3"/><circle cx="301.5" cy="214.5" r="3"/><circle cx="300.5" cy="231.5" r="3"/><circle cx="300.5" cy="252.5" r="3"/><circle cx="301.5" cy="235.5" r="3"/><circle cx="301.5" cy="215.5" r="3"/><circle cx="301.5" cy="231.5" r="3"/><circle cx="301.5" cy="268.5" r="3"/><circle cx="301.5" cy="262.5" r="3"/><circle cx="302.5" cy="224.5" r="3"/><circle cx="303.5" cy="230.5" r="3"/><circle cx="303.5" cy="236.5" r="3"/><circle cx="302.5" cy="234.5" r="3"/><circle cx="303.5" cy="230.5" r="3"/><circle cx="303.5" cy="242.5" r="3"/><circle cx="303.5" cy="219.5" r="3"/><circle cx="302.5" cy="233.5" r="3"/><circle cx="303.5" cy="230.5" r="3"/><circle cx="302.5" cy="230.5" r="3"/><circle cx="303.5" cy="234.5" r="3"/><circle cx="303.5" cy="236.5" r="3"/><circle cx="303.5" cy="230.5" r="3"/><circle cx="303.5" cy="237.5" r="3"/><circle cx="304.5" cy="231.5" r="3"/><circle cx="303.5" cy="246.5" r="3"/><circle cx="303.5" cy="238.5" r="3"/><circle cx="303.5" cy="251.5" r="3"/><circle cx="305.5" cy="236.5" r="3"/><circle cx="304.5" cy="235.5" r="3"/><circle cx="304.5" cy="259.5" r="3"/><circle cx="304.5" cy="275.5" r="3"/><circle cx="307.5" cy="241.5" r="3"/><circle cx="306.5" cy="245.5" r="3"/><circle cx="306.5" cy="239.5" r="3"/><circle cx="307.5" cy="241.5" r="3"/><circle cx="307.5" cy="242.5" r="3"/><circle cx="308.5" cy="247.5" r="3"/><circle cx="307.5" cy="245.5" r="3"/><circle cx="309.5" cy="239.5" r="3"/><circle cx="309.5" cy="239.5" r="3"/><circle cx="310.5" cy="257.5" r="3"/><circle cx="311.5" cy="247.5" r="3"/><circle cx="311.5" cy="248.5" r="3"/><circle cx="310.5" cy="253.5" r="3"/><circle cx="310.5" cy="252.5" r="3"/><circle cx="311.5" cy="240.5" r="3"/><circle cx="310.5" cy="242.5" r="3"/><circle cx="310.5" cy="285.5" r="3"/><circle cx="311.5" cy="245.5" r="3"/><circle cx="311.5" cy="244.5" r="3"/><circle cx="311.5" cy="244.5" r="3"/><circle cx="312.5" cy="240.5" r="3"/><circle cx="311.5" cy="258.5" r="3"/><circle cx="313.5" cy="241.5" r="3"/><circle cx="313.5" cy="251.5" r="3"/><circle cx="313.5" cy="242.5" r="3"/><circle cx="312.5" cy="251.5" r="3"/><circle cx="313.5" cy="248.5" r="3"/><circle cx="313.5" cy="269.5" r="3"/><circle cx="314.5" cy="240.5" r="3"/><circle cx="314.5" cy="238.5" r="3"/><circle cx="315.5" cy="256.5" r="3"/><circle cx="315.5" cy="232.5" r="3"/><circle cx="315.5" cy="239.5" r="3"/><circle cx="315.5" cy="240.5" r="3"/><circle cx="315.5" cy="233.5" r="3"/><circle cx="315.5" cy="249.5" r="3"/><circle cx="316.5" cy="241.5" r="3"/><circle cx="316.5" cy="240.5" r="3"/><circle cx="316.5" cy="237.5" r="3"/><circle cx="317.5" cy="237.5" r="3"/><circle cx="317.5" cy="229.5" r="3"/><circle cx="317.5" cy="233.5" r="3"/><circle cx="317.5" cy="242.5" r="3"/><circle cx="318.5" cy="232.5" r="3"/><circle cx="319.5" cy="234.5" r="3"/><circle cx="319.5" cy="233.5" r="3"/><circle cx="318.5" cy="229.5" r="3"/><circle cx="319.5" cy="231.5" r="3"/><circle cx="318.5" cy="235.5" r="3"/><circle cx="319.5" cy="247.5" r="3"/><circle cx="320.5" cy="224.5" r="3"/><circle cx="320.5" cy="226.5" r="3"/><circle cx="319.5" cy="225.5" r="3"/><circle cx="320.5" cy="253.5" r="3"/><circle cx="319.5" cy="247.5" r="3"/><circle cx="321.5" cy="235.5" r="3"/><circle cx="321.5" cy="228.5" r="3"/><circle cx="321.5" cy="223.5" r="3"/><circle cx="321.5" cy="225.5" r="3"/><circle cx="320.5" cy="244.5" r="3"/><circle cx="321.5" cy="237.5" r="3"/><circle cx="321.5" cy="223.5" r="3"/><circle cx="322.5" cy="225.5" r="3"/><circle cx="322.5" cy="228.5" r="3"/><circle cx="321.5" cy="244.5" r="3"/><circle cx="321.5" cy="261.5" r="3"/><circle cx="323.5" cy="233.5" r="3"/><circle cx="322.5" cy="221.5" r="3"/><circle cx="322.5" cy="219.5" r="3"/><circle cx="323.5" cy="220.5" r="3"/><circle cx="322.5" cy="222.5" r="3"/><circle cx="323.5" cy="236.5" r="3"/><circle cx="323.5" cy="224.5" r="3"/><circle cx="323.5" cy="241.5" r="3"/><circle cx="323.5" cy="236.5" r="3"/><circle cx="324.5" cy="225.5" r="3"/><circle cx="324.5" cy="223.5" r="3"/><circle cx="324.5" cy="233.5" r="3"/><circle cx="323.5" cy="227.5" r="3"/><circle cx="324.5" cy="222.5" r="3"/><circle cx="323.5" cy="234.5" r="3"/><circle cx="323.5" cy="241.5" r="3"/><circle cx="325.5" cy="219.5" r="3"/><circle cx="325.5" cy="224.5" r="3"/><circle cx="324.5" cy="233.5" r="3"/><circle cx="325.5" cy="231.5" r="3"/><circle cx="324.5" cy="217.5" r="3"/><circle cx="324.5" cy="225.5" r="3"/><circle cx="325.5" cy="228.5" r="3"/><circle cx="325.5" cy="225.5" r="3"/><circle cx="324.5" cy="230.5" r="3"/><circle cx="326.5" cy="229.5" r="3"/><circle cx="325.5" cy="218.5" r="3"/><circle cx="325.5" cy="224.5" r="3"/><circle cx="325.5" cy="223.5" r="3"/><circle cx="326.5" cy="231.5" r="3"/><circle cx="326.5" cy="227.5" r="3"/><circle cx="325.5" cy="218.5" r="3"/><circle cx="325.5" cy="219.5" r="3"/><circle cx="326.5" cy="230.5" r="3"/><circle cx="326.5" cy="221.5" r="3"/><circle cx="327.5" cy="224.5" r="3"/><circle cx="327.5" cy="219.5" r="3"/><circle cx="327.5" cy="221.5" r="3"/><circle cx="327.5" cy="234.5" r="3"/><circle cx="327.5" cy="227.5" r="3"/><circle cx="327.5" cy="215.5" r="3"/><circle cx="326.5" cy="221.5" r="3"/><circle cx="327.5" cy="262.5" r="3"/><circle cx="328.5" cy="219.5" r="3"/><circle cx="327.5" cy="224.5" r="3"/><circle cx="329.5" cy="223.5" r="3"/><circle cx="329.5" cy="224.5" r="3"/><circle cx="329.5" cy="213.5" r="3"/><circle cx="329.5" cy="222.5" r="3"/><circle cx="329.5" cy="223.5" r="3"/><circle cx="328.5" cy="219.5" r="3"/><circle cx="328.5" cy="223.5" r="3"/><circle cx="329.5" cy="214.5" r="3"/><circle cx="330.5" cy="224.5" r="3"/><circle cx="329.5" cy="221.5" r="3"/><circle cx="330.5" cy="219.5" r="3"/><circle cx="330.5" cy="219.5" r="3"/><circle cx="329.5" cy="232.5" r="3"/><circle cx="330.5" cy="217.5" r="3"/><circle cx="330.5" cy="224.5" r="3"/><circle cx="330.5" cy="218.5" r="3"/><circle cx="329.5" cy="213.5" r="3"/><circle cx="330.5" cy="212.5" r="3"/><circle cx="330.5" cy="214.5" r="3"/><circle cx="330.5" cy="218.5" r="3"/><circle cx="331.5" cy="215.5" r="3"/><circle cx="332.5" cy="213.5" r="3"/><circle cx="331.5" cy="214.5" r="3"/><circle cx="331.5" cy="210.5" r="3"/><circle cx="331.5" cy="220.5" r="3"/><circle cx="332.5" cy="211.5" r="3"/><circle cx="331.5" cy="210.5" r="3"/><circle cx="331.5" cy="214.5" r="3"/><circle cx="331.5" cy="235.5" r="3"/><circle cx="331.5" cy="238.5" r="3"/><circle cx="331.5" cy="279.5" r="3"/><circle cx="333.5" cy="223.5" r="3"/><circle cx="333.5" cy="215.5" r="3"/><circle cx="333.5" cy="212.5" r="3"/><circle cx="332.5" cy="231.5" r="3"/><circle cx="332.5" cy="220.5" r="3"/><circle cx="333.5" cy="211.5" r="3"/><circle cx="333.5" cy="242.5" r="3"/><circle cx="332.5" cy="254.5" r="3"/><circle cx="333.5" cy="225.5" r="3"/><circle cx="333.5" cy="229.5" r="3"/><circle cx="335.5" cy="218.5" r="3"/><circle cx="334.5" cy="212.5" r="3"/><circle cx="335.5" cy="217.5" r="3"/><circle cx="335.5" cy="214.5" r="3"/><circle cx="335.5" cy="219.5" r="3"/><circle cx="336.5" cy="219.5" r="3"/><circle cx="336.5" cy="221.5" r="3"/><circle cx="335.5" cy="227.5" r="3"/><circle cx="335.5" cy="232.5" r="3"/><circle cx="336.5" cy="220.5" r="3"/><circle cx="337.5" cy="216.5" r="3"/><circle cx="337.5" cy="219.5" r="3"/><circle cx="337.5" cy="222.5" r="3"/><circle cx="336.5" cy="218.5" r="3"/><circle cx="337.5" cy="217.5" r="3"/><circle cx="337.5" cy="227.5" r="3"/><circle cx="337.5" cy="220.5" r="3"/><circle cx="338.5" cy="225.5" r="3"/><circle cx="338.5" cy="214.5" r="3"/><circle cx="338.5" cy="219.5" r="3"/><circle cx="338.5" cy="223.5" r="3"/><circle cx="338.5" cy="230.5" r="3"/><circle cx="339.5" cy="218.5" r="3"/><circle cx="338.5" cy="215.5" r="3"/><circle cx="338.5" cy="239.5" r="3"/><circle cx="340.5" cy="216.5" r="3"/><circle cx="340.5" cy="230.5" r="3"/><circle cx="339.5" cy="219.5" r="3"/><circle cx="339.5" cy="232.5" r="3"/><circle cx="339.5" cy="227.5" r="3"/><circle cx="341.5" cy="227.5" r="3"/><circle cx="342.5" cy="220.5" r="3"/><circle cx="341.5" cy="221.5" r="3"/><circle cx="341.5" cy="218.5" r="3"/><circle cx="341.5" cy="240.5" r="3"/><circle cx="341.5" cy="254.5" r="3"/><circle cx="343.5" cy="221.5" r="3"/><circle cx="343.5" cy="219.5" r="3"/><circle cx="343.5" cy="216.5" r="3"/><circle cx="342.5" cy="232.5" r="3"/><circle cx="343.5" cy="221.5" r="3"/><circle cx="344.5" cy="223.5" r="3"/><circle cx="345.5" cy="221.5" r="3"/><circle cx="345.5" cy="233.5" r="3"/><circle cx="345.5" cy="226.5" r="3"/><circle cx="346.5" cy="218.5" r="3"/><circle cx="346.5" cy="221.5" r="3"/><circle cx="346.5" cy="224.5" r="3"/><circle cx="347.5" cy="237.5" r="3"/><circle cx="348.5" cy="221.5" r="3"/><circle cx="348.5" cy="220.5" r="3"/><circle cx="347.5" cy="222.5" r="3"/><circle cx="348.5" cy="218.5" r="3"/><circle cx="347.5" cy="226.5" r="3"/><circle cx="347.5" cy="238.5" r="3"/><circle cx="348.5" cy="242.5" r="3"/><circle cx="349.5" cy="224.5" r="3"/><circle cx="349.5" cy="221.5" r="3"/><circle cx="348.5" cy="225.5" r="3"/><circle cx="349.5" cy="223.5" r="3"/><circle cx="349.5" cy="215.5" r="3"/><circle cx="348.5" cy="227.5" r="3"/><circle cx="348.5" cy="220.5" r="3"/><circle cx="349.5" cy="215.5" r="3"/><circle cx="348.5" cy="226.5" r="3"/><circle cx="350.5" cy="220.5" r="3"/><circle cx="349.5" cy="227.5" r="3"/><circle cx="350.5" cy="219.5" r="3"/><circle cx="350.5" cy="217.5" r="3"/><circle cx="350.5" cy="219.5" r="3"/><circle cx="350.5" cy="222.5" r="3"/><circle cx="350.5" cy="217.5" r="3"/><circle cx="350.5" cy="214.5" r="3"/><circle cx="349.5" cy="239.5" r="3"/><circle cx="349.5" cy="240.5" r="3"/><circle cx="351.5" cy="217.5" r="3"/><circle cx="351.5" cy="214.5" r="3"/><circle cx="350.5" cy="217.5" r="3"/><circle cx="351.5" cy="218.5" r="3"/><circle cx="351.5" cy="212.5" r="3"/><circle cx="351.5" cy="211.5" r="3"/><circle cx="352.5" cy="232.5" r="3"/><circle cx="351.5" cy="234.5" r="3"/><circle cx="352.5" cy="229.5" r="3"/><circle cx="352.5" cy="218.5" r="3"/><circle cx="352.5" cy="218.5" r="3"/><circle cx="352.5" cy="270.5" r="3"/><circle cx="353.5" cy="208.5" r="3"/><circle cx="353.5" cy="220.5" r="3"/><circle cx="352.5" cy="211.5" r="3"/><circle cx="352.5" cy="214.5" r="3"/><circle cx="353.5" cy="229.5" r="3"/><circle cx="353.5" cy="214.5" r="3"/><circle cx="353.5" cy="208.5" r="3"/><circle cx="352.5" cy="223.5" r="3"/><circle cx="353.5" cy="212.5" r="3"/><circle cx="353.5" cy="208.5" r="3"/><circle cx="353.5" cy="228.5" r="3"/><circle cx="353.5" cy="221.5" r="3"/><circle cx="354.5" cy="206.5" r="3"/><circle cx="353.5" cy="241.5" r="3"/><circle cx="354.5" cy="242.5" r="3"/><circle cx="355.5" cy="228.5" r="3"/><circle cx="354.5" cy="228.5" r="3"/><circle cx="354.5" cy="214.5" r="3"/><circle cx="355.5" cy="219.5" r="3"/><circle cx="355.5" cy="228.5" r="3"/><circle cx="356.5" cy="230.5" r="3"/><circle cx="356.5" cy="221.5" r="3"/><circle cx="356.5" cy="223.5" r="3"/><circle cx="356.5" cy="219.5" r="3"/><circle cx="357.5" cy="221.5" r="3"/><circle cx="357.5" cy="211.5" r="3"/><circle cx="356.5" cy="224.5" r="3"/><circle cx="358.5" cy="238.5" r="3"/><circle cx="357.5" cy="228.5" r="3"/><circle cx="358.5" cy="230.5" r="3"/><circle cx="358.5" cy="232.5" r="3"/><circle cx="357.5" cy="208.5" r="3"/><circle cx="358.5" cy="242.5" r="3"/><circle cx="358.5" cy="217.5" r="3"/><circle cx="358.5" cy="222.5" r="3"/><circle cx="358.5" cy="215.5" r="3"/><circle cx="359.5" cy="208.5" r="3"/><circle cx="358.5" cy="238.5" r="3"/><circle cx="359.5" cy="231.5" r="3"/><circle cx="358.5" cy="225.5" r="3"/><circle cx="360.5" cy="229.5" r="3"/><circle cx="359.5" cy="236.5" r="3"/><circle cx="359.5" cy="216.5" r="3"/><circle cx="360.5" cy="228.5" r="3"/><circle cx="360.5" cy="230.5" r="3"/><circle cx="359.5" cy="218.5" r="3"/><circle cx="359.5" cy="226.5" r="3"/><circle cx="360.5" cy="238.5" r="3"/><circle cx="360.5" cy="221.5" r="3"/><circle cx="361.5" cy="219.5" r="3"/><circle cx="360.5" cy="214.5" r="3"/><circle cx="361.5" cy="216.5" r="3"/><circle cx="360.5" cy="219.5" r="3"/><circle cx="361.5" cy="216.5" r="3"/><circle cx="361.5" cy="226.5" r="3"/><circle cx="360.5" cy="234.5" r="3"/><circle cx="362.5" cy="237.5" r="3"/><circle cx="361.5" cy="221.5" r="3"/><circle cx="361.5" cy="209.5" r="3"/><circle cx="361.5" cy="231.5" r="3"/><circle cx="361.5" cy="232.5" r="3"/><circle cx="361.5" cy="212.5" r="3"/><circle cx="362.5" cy="216.5" r="3"/><circle cx="362.5" cy="208.5" r="3"/><circle cx="362.5" cy="228.5" r="3"/><circle cx="361.5" cy="262.5" r="3"/><circle cx="362.5" cy="220.5" r="3"/><circle cx="362.5" cy="226.5" r="3"/><circle cx="363.5" cy="232.5" r="3"/><circle cx="363.5" cy="220.5" r="3"/><circle cx="363.5" cy="236.5" r="3"/><circle cx="364.5" cy="213.5" r="3"/><circle cx="364.5" cy="238.5" r="3"/><circle cx="363.5" cy="211.5" r="3"/><circle cx="363.5" cy="236.5" r="3"/><circle cx="363.5" cy="213.5" r="3"/><circle cx="363.5" cy="224.5" r="3"/><circle cx="364.5" cy="229.5" r="3"/><circle cx="364.5" cy="220.5" r="3"/><circle cx="364.5" cy="238.5" r="3"/><circle cx="365.5" cy="216.5" r="3"/><circle cx="364.5" cy="223.5" r="3"/><circle cx="364.5" cy="233.5" r="3"/><circle cx="365.5" cy="263.5" r="3"/><circle cx="365.5" cy="216.5" r="3"/><circle cx="366.5" cy="222.5" r="3"/><circle cx="365.5" cy="231.5" r="3"/><circle cx="365.5" cy="227.5" r="3"/><circle cx="365.5" cy="232.5" r="3"/><circle cx="366.5" cy="220.5" r="3"/><circle cx="367.5" cy="224.5" r="3"/><circle cx="366.5" cy="234.5" r="3"/><circle cx="366.5" cy="233.5" r="3"/><circle cx="366.5" cy="262.5" r="3"/><circle cx="368.5" cy="223.5" r="3"/><circle cx="367.5" cy="225.5" r="3"/><circle cx="369.5" cy="226.5" r="3"/><circle cx="369.5" cy="232.5" r="3"/><circle cx="368.5" cy="228.5" r="3"/><circle cx="368.5" cy="244.5" r="3"/><circle cx="370.5" cy="232.5" r="3"/><circle cx="369.5" cy="225.5" r="3"/><circle cx="369.5" cy="241.5" r="3"/><circle cx="369.5" cy="227.5" r="3"/><circle cx="370.5" cy="230.5" r="3"/><circle cx="372.5" cy="226.5" r="3"/><circle cx="371.5" cy="233.5" r="3"/><circle cx="371.5" cy="242.5" r="3"/><circle cx="372.5" cy="226.5" r="3"/><circle cx="372.5" cy="227.5" r="3"/><circle cx="373.5" cy="233.5" r="3"/><circle cx="372.5" cy="232.5" r="3"/><circle cx="372.5" cy="225.5" r="3"/><circle cx="373.5" cy="228.5" r="3"/><circle cx="372.5" cy="229.5" r="3"/><circle cx="374.5" cy="236.5" r="3"/><circle cx="374.5" cy="242.5" r="3"/><circle cx="373.5" cy="295.5" r="3"/><circle cx="373.5" cy="286.5" r="3"/><circle cx="374.5" cy="225.5" r="3"/><circle cx="375.5" cy="239.5" r="3"/><circle cx="375.5" cy="235.5" r="3"/><circle cx="375.5" cy="233.5" r="3"/><circle cx="374.5" cy="233.5" r="3"/><circle cx="375.5" cy="234.5" r="3"/><circle cx="375.5" cy="225.5" r="3"/><circle cx="375.5" cy="231.5" r="3"/><circle cx="376.5" cy="231.5" r="3"/><circle cx="376.5" cy="226.5" r="3"/><circle cx="376.5" cy="223.5" r="3"/><circle cx="377.5" cy="237.5" r="3"/><circle cx="378.5" cy="230.5" r="3"/><circle cx="379.5" cy="221.5" r="3"/><circle cx="379.5" cy="221.5" r="3"/><circle cx="378.5" cy="231.5" r="3"/><circle cx="379.5" cy="226.5" r="3"/><circle cx="379.5" cy="252.5" r="3"/><circle cx="379.5" cy="223.5" r="3"/><circle cx="380.5" cy="220.5" r="3"/><circle cx="379.5" cy="231.5" r="3"/><circle cx="379.5" cy="224.5" r="3"/><circle cx="379.5" cy="226.5" r="3"/><circle cx="379.5" cy="220.5" r="3"/><circle cx="380.5" cy="222.5" r="3"/><circle cx="381.5" cy="220.5" r="3"/><circle cx="380.5" cy="229.5" r="3"/><circle cx="381.5" cy="228.5" r="3"/><circle cx="380.5" cy="223.5" r="3"/><circle cx="381.5" cy="219.5" r="3"/><circle cx="380.5" cy="227.5" r="3"/><circle cx="380.5" cy="226.5" r="3"/><circle cx="382.5" cy="219.5" r="3"/><circle cx="382.5" cy="224.5" r="3"/><circle cx="381.5" cy="231.5" r="3"/><circle cx="381.5" cy="220.5" r="3"/><circle cx="382.5" cy="235.5" r="3"/><circle cx="383.5" cy="224.5" r="3"/><circle cx="383.5" cy="221.5" r="3"/><circle cx="384.5" cy="227.5" r="3"/><circle cx="384.5" cy="228.5" r="3"/><circle cx="383.5" cy="237.5" r="3"/><circle cx="383.5" cy="247.5" r="3"/><circle cx="383.5" cy="246.5" r="3"/><circle cx="384.5" cy="222.5" r="3"/><circle cx="384.5" cy="220.5" r="3"/><circle cx="385.5" cy="218.5" r="3"/><circle cx="385.5" cy="226.5" r="3"/><circle cx="385.5" cy="222.5" r="3"/><circle cx="385.5" cy="233.5" r="3"/><circle cx="385.5" cy="223.5" r="3"/><circle cx="385.5" cy="222.5" r="3"/><circle cx="385.5" cy="222.5" r="3"/><circle cx="386.5" cy="241.5" r="3"/><circle cx="385.5" cy="237.5" r="3"/><circle cx="386.5" cy="317.5" r="3"/><circle cx="386.5" cy="228.5" r="3"/><circle cx="387.5" cy="239.5" r="3"/><circle cx="391.5" cy="224.5" r="3"/><circle cx="391.5" cy="234.5" r="3"/><circle cx="392.5" cy="213.5" r="3"/><circle cx="393.5" cy="208.5" r="3"/><circle cx="393.5" cy="212.5" r="3"/><circle cx="393.5" cy="226.5" r="3"/><circle cx="394.5" cy="221.5" r="3"/><circle cx="394.5" cy="217.5" r="3"/><circle cx="394.5" cy="217.5" r="3"/><circle cx="394.5" cy="224.5" r="3"/><circle cx="394.5" cy="211.5" r="3"/><circle cx="395.5" cy="217.5" r="3"/><circle cx="394.5" cy="221.5" r="3"/><circle cx="394.5" cy="229.5" r="3"/><circle cx="396.5" cy="218.5" r="3"/><circle cx="395.5" cy="219.5" r="3"/><circle cx="397.5" cy="221.5" r="3"/><circle cx="396.5" cy="220.5" r="3"/><circle cx="397.5" cy="243.5" r="3"/><circle cx="400.5" cy="224.5" r="3"/><circle cx="400.5" cy="220.5" r="3"/><circle cx="400.5" cy="224.5" r="3"/><circle cx="400.5" cy="230.5" r="3"/><circle cx="399.5" cy="281.5" r="3"/><circle cx="400.5" cy="226.5" r="3"/><circle cx="400.5" cy="226.5" r="3"/><circle cx="401.5" cy="237.5" r="3"/><circle cx="402.5" cy="222.5" r="3"/><circle cx="401.5" cy="231.5" r="3"/><circle cx="402.5" cy="221.5" r="3"/><circle cx="403.5" cy="222.5" r="3"/><circle cx="403.5" cy="233.5" r="3"/><circle cx="404.5" cy="238.5" r="3"/><circle cx="404.5" cy="230.5" r="3"/><circle cx="405.5" cy="226.5" r="3"/><circle cx="404.5" cy="233.5" r="3"/><circle cx="404.5" cy="228.5" r="3"/><circle cx="405.5" cy="233.5" r="3"/><circle cx="404.5" cy="221.5" r="3"/><circle cx="405.5" cy="230.5" r="3"/><circle cx="404.5" cy="255.5" r="3"/><circle cx="406.5" cy="221.5" r="3"/><circle cx="406.5" cy="223.5" r="3"/><circle cx="406.5" cy="223.5" r="3"/><circle cx="405.5" cy="220.5" r="3"/><circle cx="406.5" cy="220.5" r="3"/><circle cx="405.5" cy="220.5" r="3"/><circle cx="405.5" cy="226.5" r="3"/><circle cx="406.5" cy="241.5" r="3"/><circle cx="406.5" cy="242.5" r="3"/><circle cx="406.5" cy="219.5" r="3"/><circle cx="406.5" cy="224.5" r="3"/><circle cx="407.5" cy="228.5" r="3"/><circle cx="407.5" cy="222.5" r="3"/><circle cx="406.5" cy="219.5" r="3"/><circle cx="407.5" cy="231.5" r="3"/><circle cx="406.5" cy="229.5" r="3"/><circle cx="408.5" cy="220.5" r="3"/><circle cx="407.5" cy="228.5" r="3"/><circle cx="407.5" cy="231.5" r="3"/><circle cx="407.5" cy="234.5" r="3"/><circle cx="407.5" cy="224.5" r="3"/><circle cx="407.5" cy="225.5" r="3"/><circle cx="408.5" cy="231.5" r="3"/><circle cx="407.5" cy="219.5" r="3"/><circle cx="408.5" cy="261.5" r="3"/><circle cx="409.5" cy="229.5" r="3"/><circle cx="408.5" cy="227.5" r="3"/><circle cx="408.5" cy="228.5" r="3"/><circle cx="409.5" cy="235.5" r="3"/><circle cx="408.5" cy="244.5" r="3"/><circle cx="409.5" cy="228.5" r="3"/><circle cx="410.5" cy="237.5" r="3"/><circle cx="409.5" cy="220.5" r="3"/><circle cx="409.5" cy="243.5" r="3"/><circle cx="409.5" cy="218.5" r="3"/><circle cx="410.5" cy="216.5" r="3"/><circle cx="409.5" cy="226.5" r="3"/><circle cx="410.5" cy="234.5" r="3"/><circle cx="409.5" cy="236.5" r="3"/><circle cx="410.5" cy="219.5" r="3"/><circle cx="411.5" cy="227.5" r="3"/><circle cx="411.5" cy="215.5" r="3"/><circle cx="410.5" cy="240.5" r="3"/><circle cx="410.5" cy="225.5" r="3"/><circle cx="411.5" cy="244.5" r="3"/><circle cx="411.5" cy="238.5" r="3"/><circle cx="411.5" cy="229.5" r="3"/><circle cx="411.5" cy="228.5" r="3"/><circle cx="412.5" cy="230.5" r="3"/><circle cx="412.5" cy="228.5" r="3"/><circle cx="411.5" cy="227.5" r="3"/><circle cx="412.5" cy="220.5" r="3"/><circle cx="412.5" cy="226.5" r="3"/><circle cx="413.5" cy="228.5" r="3"/><circle cx="413.5" cy="232.5" r="3"/><circle cx="412.5" cy="217.5" r="3"/><circle cx="414.5" cy="233.5" r="3"/><circle cx="413.5" cy="228.5" r="3"/><circle cx="413.5" cy="238.5" r="3"/><circle cx="414.5" cy="226.5" r="3"/><circle cx="413.5" cy="214.5" r="3"/><circle cx="413.5" cy="214.5" r="3"/><circle cx="414.5" cy="219.5" r="3"/><circle cx="413.5" cy="221.5" r="3"/><circle cx="415.5" cy="236.5" r="3"/><circle cx="415.5" cy="223.5" r="3"/><circle cx="414.5" cy="222.5" r="3"/><circle cx="415.5" cy="230.5" r="3"/><circle cx="414.5" cy="239.5" r="3"/><circle cx="414.5" cy="225.5" r="3"/><circle cx="414.5" cy="236.5" r="3"/><circle cx="414.5" cy="217.5" r="3"/><circle cx="414.5" cy="231.5" r="3"/><circle cx="415.5" cy="230.5" r="3"/><circle cx="416.5" cy="234.5" r="3"/><circle cx="416.5" cy="213.5" r="3"/><circle cx="415.5" cy="222.5" r="3"/><circle cx="416.5" cy="221.5" r="3"/><circle cx="415.5" cy="228.5" r="3"/><circle cx="415.5" cy="214.5" r="3"/><circle cx="417.5" cy="223.5" r="3"/><circle cx="416.5" cy="223.5" r="3"/><circle cx="417.5" cy="219.5" r="3"/><circle cx="417.5" cy="223.5" r="3"/><circle cx="417.5" cy="255.5" r="3"/><circle cx="418.5" cy="223.5" r="3"/><circle cx="417.5" cy="220.5" r="3"/><circle cx="417.5" cy="219.5" r="3"/><circle cx="417.5" cy="213.5" r="3"/><circle cx="418.5" cy="223.5" r="3"/><circle cx="417.5" cy="226.5" r="3"/><circle cx="417.5" cy="222.5" r="3"/><circle cx="417.5" cy="216.5" r="3"/><circle cx="417.5" cy="211.5" r="3"/><circle cx="418.5" cy="211.5" r="3"/><circle cx="418.5" cy="231.5" r="3"/><circle cx="419.5" cy="215.5" r="3"/><circle cx="418.5" cy="214.5" r="3"/><circle cx="418.5" cy="214.5" r="3"/><circle cx="418.5" cy="217.5" r="3"/><circle cx="419.5" cy="222.5" r="3"/><circle cx="419.5" cy="213.5" r="3"/><circle cx="419.5" cy="217.5" r="3"/><circle cx="419.5" cy="226.5" r="3"/><circle cx="420.5" cy="223.5" r="3"/><circle cx="419.5" cy="231.5" r="3"/><circle cx="420.5" cy="235.5" r="3"/><circle cx="420.5" cy="226.5" r="3"/><circle cx="420.5" cy="227.5" r="3"/><circle cx="420.5" cy="225.5" r="3"/><circle cx="420.5" cy="225.5" r="3"/><circle cx="420.5" cy="211.5" r="3"/><circle cx="421.5" cy="230.5" r="3"/><circle cx="422.5" cy="212.5" r="3"/><circle cx="422.5" cy="220.5" r="3"/><circle cx="422.5" cy="223.5" r="3"/><circle cx="421.5" cy="216.5" r="3"/><circle cx="422.5" cy="252.5" r="3"/><circle cx="423.5" cy="211.5" r="3"/><circle cx="423.5" cy="234.5" r="3"/><circle cx="424.5" cy="220.5" r="3"/><circle cx="424.5" cy="216.5" r="3"/><circle cx="423.5" cy="233.5" r="3"/><circle cx="424.5" cy="225.5" r="3"/><circle cx="425.5" cy="219.5" r="3"/><circle cx="425.5" cy="231.5" r="3"/><circle cx="426.5" cy="217.5" r="3"/><circle cx="427.5" cy="215.5" r="3"/><circle cx="426.5" cy="221.5" r="3"/><circle cx="428.5" cy="276.5" r="3"/><circle cx="429.5" cy="223.5" r="3"/><circle cx="430.5" cy="226.5" r="3"/><circle cx="429.5" cy="247.5" r="3"/><circle cx="432.5" cy="217.5" r="3"/><circle cx="434.5" cy="218.5" r="3"/><circle cx="435.5" cy="228.5" r="3"/><circle cx="435.5" cy="226.5" r="3"/><circle cx="436.5" cy="221.5" r="3"/><circle cx="437.5" cy="220.5" r="3"/><circle cx="437.5" cy="221.5" r="3"/><circle cx="437.5" cy="227.5" r="3"/><circle cx="437.5" cy="227.5" r="3"/><circle cx="437.5" cy="220.5" r="3"/><circle cx="437.5" cy="228.5" r="3"/><circle cx="438.5" cy="226.5" r="3"/><circle cx="438.5" cy="222.5" r="3"/><circle cx="438.5" cy="221.5" r="3"/><circle cx="439.5" cy="233.5" r="3"/><circle cx="439.5" cy="236.5" r="3"/><circle cx="439.5" cy="230.5" r="3"/><circle cx="439.5" cy="232.5" r="3"/><circle cx="440.5" cy="223.5" r="3"/><circle cx="439.5" cy="231.5" r="3"/><circle cx="440.5" cy="242.5" r="3"/><circle cx="440.5" cy="225.5" r="3"/><circle cx="440.5" cy="222.5" r="3"/><circle cx="440.5" cy="237.5" r="3"/><circle cx="440.5" cy="232.5" r="3"/><circle cx="441.5" cy="224.5" r="3"/><circle cx="441.5" cy="229.5" r="3"/><circle cx="440.5" cy="244.5" r="3"/><circle cx="441.5" cy="240.5" r="3"/><circle cx="440.5" cy="232.5" r="3"/><circle cx="441.5" cy="260.5" r="3"/><circle cx="442.5" cy="234.5" r="3"/><circle cx="442.5" cy="243.5" r="3"/><circle cx="441.5" cy="233.5" r="3"/><circle cx="441.5" cy="246.5" r="3"/><circle cx="441.5" cy="247.5" r="3"/><circle cx="441.5" cy="229.5" r="3"/><circle cx="441.5" cy="223.5" r="3"/><circle cx="441.5" cy="247.5" r="3"/><circle cx="441.5" cy="222.5" r="3"/><circle cx="443.5" cy="226.5" r="3"/><circle cx="443.5" cy="245.5" r="3"/><circle cx="442.5" cy="234.5" r="3"/><circle cx="442.5" cy="235.5" r="3"/><circle cx="442.5" cy="232.5" r="3"/><circle cx="443.5" cy="224.5" r="3"/><circle cx="443.5" cy="229.5" r="3"/><circle cx="443.5" cy="240.5" r="3"/><circle cx="443.5" cy="244.5" r="3"/><circle cx="442.5" cy="232.5" r="3"/><circle cx="443.5" cy="253.5" r="3"/><circle cx="443.5" cy="314.5" r="3"/><circle cx="443.5" cy="234.5" r="3"/><circle cx="443.5" cy="235.5" r="3"/><circle cx="444.5" cy="241.5" r="3"/><circle cx="444.5" cy="223.5" r="3"/><circle cx="444.5" cy="225.5" r="3"/><circle cx="445.5" cy="240.5" r="3"/><circle cx="444.5" cy="242.5" r="3"/><circle cx="444.5" cy="229.5" r="3"/><circle cx="444.5" cy="238.5" r="3"/><circle cx="444.5" cy="232.5" r="3"/><circle cx="444.5" cy="228.5" r="3"/><circle cx="445.5" cy="245.5" r="3"/><circle cx="445.5" cy="245.5" r="3"/><circle cx="444.5" cy="225.5" r="3"/><circle cx="446.5" cy="230.5" r="3"/><circle cx="445.5" cy="244.5" r="3"/><circle cx="446.5" cy="241.5" r="3"/><circle cx="446.5" cy="225.5" r="3"/><circle cx="445.5" cy="235.5" r="3"/><circle cx="445.5" cy="255.5" r="3"/><circle cx="445.5" cy="242.5" r="3"/><circle cx="445.5" cy="260.5" r="3"/><circle cx="446.5" cy="240.5" r="3"/><circle cx="446.5" cy="240.5" r="3"/><circle cx="447.5" cy="245.5" r="3"/><circle cx="446.5" cy="245.5" r="3"/><circle cx="446.5" cy="240.5" r="3"/><circle cx="446.5" cy="234.5" r="3"/><circle cx="446.5" cy="229.5" r="3"/><circle cx="447.5" cy="260.5" r="3"/><circle cx="447.5" cy="305.5" r="3"/><circle cx="447.5" cy="231.5" r="3"/><circle cx="448.5" cy="238.5" r="3"/><circle cx="447.5" cy="239.5" r="3"/><circle cx="448.5" cy="235.5" r="3"/><circle cx="447.5" cy="239.5" r="3"/><circle cx="448.5" cy="257.5" r="3"/><circle cx="449.5" cy="236.5" r="3"/><circle cx="448.5" cy="237.5" r="3"/><circle cx="448.5" cy="232.5" r="3"/><circle cx="448.5" cy="227.5" r="3"/><circle cx="449.5" cy="257.5" r="3"/><circle cx="450.5" cy="239.5" r="3"/><circle cx="449.5" cy="230.5" r="3"/><circle cx="450.5" cy="244.5" r="3"/><circle cx="449.5" cy="251.5" r="3"/><circle cx="450.5" cy="230.5" r="3"/><circle cx="449.5" cy="237.5" r="3"/><circle cx="450.5" cy="232.5" r="3"/><circle cx="449.5" cy="236.5" r="3"/><circle cx="450.5" cy="233.5" r="3"/><circle cx="451.5" cy="231.5" r="3"/><circle cx="451.5" cy="257.5" r="3"/><circle cx="450.5" cy="244.5" r="3"/><circle cx="451.5" cy="238.5" r="3"/><circle cx="451.5" cy="241.5" r="3"/><circle cx="450.5" cy="228.5" r="3"/><circle cx="451.5" cy="279.5" r="3"/><circle cx="452.5" cy="232.5" r="3"/><circle cx="451.5" cy="247.5" r="3"/><circle cx="451.5" cy="256.5" r="3"/><circle cx="452.5" cy="242.5" r="3"/><circle cx="451.5" cy="232.5" r="3"/><circle cx="451.5" cy="229.5" r="3"/><circle cx="451.5" cy="256.5" r="3"/><circle cx="452.5" cy="240.5" r="3"/><circle cx="451.5" cy="232.5" r="3"/><circle cx="451.5" cy="264.5" r="3"/><circle cx="452.5" cy="258.5" r="3"/><circle cx="452.5" cy="255.5" r="3"/><circle cx="452.5" cy="247.5" r="3"/><circle cx="452.5" cy="236.5" r="3"/><circle cx="452.5" cy="234.5" r="3"/><circle cx="452.5" cy="245.5" r="3"/><circle cx="452.5" cy="236.5" r="3"/><circle cx="453.5" cy="241.5" r="3"/><circle cx="452.5" cy="246.5" r="3"/><circle cx="452.5" cy="249.5" r="3"/><circle cx="453.5" cy="233.5" r="3"/><circle cx="452.5" cy="266.5" r="3"/><circle cx="453.5" cy="235.5" r="3"/><circle cx="453.5" cy="235.5" r="3"/><circle cx="454.5" cy="246.5" r="3"/><circle cx="453.5" cy="241.5" r="3"/><circle cx="454.5" cy="265.5" r="3"/><circle cx="454.5" cy="267.5" r="3"/><circle cx="455.5" cy="240.5" r="3"/><circle cx="454.5" cy="233.5" r="3"/><circle cx="454.5" cy="227.5" r="3"/><circle cx="454.5" cy="238.5" r="3"/><circle cx="454.5" cy="236.5" r="3"/><circle cx="455.5" cy="241.5" r="3"/><circle cx="456.5" cy="253.5" r="3"/><circle cx="455.5" cy="236.5" r="3"/><circle cx="455.5" cy="251.5" r="3"/><circle cx="455.5" cy="229.5" r="3"/><circle cx="456.5" cy="248.5" r="3"/><circle cx="455.5" cy="233.5" r="3"/><circle cx="457.5" cy="241.5" r="3"/><circle cx="457.5" cy="247.5" r="3"/><circle cx="456.5" cy="238.5" r="3"/><circle cx="456.5" cy="231.5" r="3"/><circle cx="456.5" cy="243.5" r="3"/><circle cx="457.5" cy="254.5" r="3"/><circle cx="456.5" cy="234.5" r="3"/><circle cx="456.5" cy="246.5" r="3"/><circle cx="457.5" cy="238.5" r="3"/><circle cx="456.5" cy="260.5" r="3"/><circle cx="457.5" cy="238.5" r="3"/><circle cx="457.5" cy="234.5" r="3"/><circle cx="457.5" cy="250.5" r="3"/><circle cx="457.5" cy="229.5" r="3"/><circle cx="457.5" cy="241.5" r="3"/><circle cx="457.5" cy="228.5" r="3"/><circle cx="459.5" cy="236.5" r="3"/><circle cx="459.5" cy="227.5" r="3"/><circle cx="459.5" cy="237.5" r="3"/><circle cx="459.5" cy="230.5" r="3"/><circle cx="459.5" cy="260.5" r="3"/><circle cx="459.5" cy="231.5" r="3"/><circle cx="459.5" cy="249.5" r="3"/><circle cx="460.5" cy="224.5" r="3"/><circle cx="459.5" cy="237.5" r="3"/><circle cx="460.5" cy="223.5" r="3"/><circle cx="460.5" cy="237.5" r="3"/><circle cx="459.5" cy="245.5" r="3"/><circle cx="459.5" cy="231.5" r="3"/><circle cx="459.5" cy="244.5" r="3"/><circle cx="459.5" cy="222.5" r="3"/><circle cx="460.5" cy="224.5" r="3"/><circle cx="461.5" cy="222.5" r="3"/><circle cx="460.5" cy="224.5" r="3"/><circle cx="460.5" cy="242.5" r="3"/><circle cx="460.5" cy="253.5" r="3"/><circle cx="461.5" cy="252.5" r="3"/><circle cx="461.5" cy="224.5" r="3"/><circle cx="461.5" cy="218.5" r="3"/><circle cx="461.5" cy="217.5" r="3"/><circle cx="461.5" cy="242.5" r="3"/><circle cx="460.5" cy="285.5" r="3"/><circle cx="462.5" cy="219.5" r="3"/><circle cx="461.5" cy="212.5" r="3"/><circle cx="461.5" cy="224.5" r="3"/><circle cx="462.5" cy="234.5" r="3"/><circle cx="461.5" cy="246.5" r="3"/><circle cx="461.5" cy="218.5" r="3"/><circle cx="462.5" cy="215.5" r="3"/><circle cx="462.5" cy="227.5" r="3"/><circle cx="463.5" cy="213.5" r="3"/><circle cx="462.5" cy="213.5" r="3"/><circle cx="462.5" cy="219.5" r="3"/><circle cx="463.5" cy="210.5" r="3"/><circle cx="463.5" cy="212.5" r="3"/><circle cx="463.5" cy="238.5" r="3"/><circle cx="463.5" cy="245.5" r="3"/><circle cx="463.5" cy="239.5" r="3"/><circle cx="462.5" cy="224.5" r="3"/><circle cx="462.5" cy="211.5" r="3"/><circle cx="463.5" cy="223.5" r="3"/><circle cx="464.5" cy="214.5" r="3"/><circle cx="463.5" cy="246.5" r="3"/><circle cx="464.5" cy="234.5" r="3"/><circle cx="463.5" cy="213.5" r="3"/><circle cx="464.5" cy="232.5" r="3"/><circle cx="463.5" cy="231.5" r="3"/><circle cx="463.5" cy="242.5" r="3"/><circle cx="464.5" cy="208.5" r="3"/><circle cx="464.5" cy="224.5" r="3"/><circle cx="463.5" cy="258.5" r="3"/><circle cx="464.5" cy="255.5" r="3"/><circle cx="463.5" cy="282.5" r="3"/><circle cx="463.5" cy="287.5" r="3"/><circle cx="465.5" cy="228.5" r="3"/><circle cx="464.5" cy="242.5" r="3"/><circle cx="464.5" cy="223.5" r="3"/><circle cx="464.5" cy="222.5" r="3"/><circle cx="465.5" cy="215.5" r="3"/><circle cx="464.5" cy="218.5" r="3"/><circle cx="465.5" cy="213.5" r="3"/><circle cx="464.5" cy="217.5" r="3"/><circle cx="465.5" cy="226.5" r="3"/><circle cx="465.5" cy="225.5" r="3"/><circle cx="464.5" cy="212.5" r="3"/><circle cx="465.5" cy="261.5" r="3"/><circle cx="464.5" cy="262.5" r="3"/><circle cx="465.5" cy="222.5" r="3"/><circle cx="466.5" cy="216.5" r="3"/><circle cx="465.5" cy="248.5" r="3"/><circle cx="465.5" cy="228.5" r="3"/><circle cx="465.5" cy="221.5" r="3"/><circle cx="465.5" cy="219.5" r="3"/><circle cx="465.5" cy="231.5" r="3"/><circle cx="465.5" cy="217.5" r="3"/><circle cx="466.5" cy="227.5" r="3"/><circle cx="466.5" cy="234.5" r="3"/><circle cx="466.5" cy="225.5" r="3"/><circle cx="467.5" cy="226.5" r="3"/><circle cx="467.5" cy="234.5" r="3"/><circle cx="467.5" cy="238.5" r="3"/><circle cx="467.5" cy="229.5" r="3"/><circle cx="466.5" cy="236.5" r="3"/><circle cx="467.5" cy="257.5" r="3"/><circle cx="467.5" cy="238.5" r="3"/><circle cx="467.5" cy="243.5" r="3"/><circle cx="467.5" cy="231.5" r="3"/><circle cx="467.5" cy="242.5" r="3"/><circle cx="468.5" cy="247.5" r="3"/><circle cx="467.5" cy="255.5" r="3"/><circle cx="468.5" cy="236.5" r="3"/><circle cx="469.5" cy="252.5" r="3"/><circle cx="469.5" cy="233.5" r="3"/><circle cx="469.5" cy="234.5" r="3"/><circle cx="470.5" cy="260.5" r="3"/><circle cx="471.5" cy="233.5" r="3"/><circle cx="470.5" cy="231.5" r="3"/><circle cx="471.5" cy="246.5" r="3"/><circle cx="470.5" cy="234.5" r="3"/><circle cx="471.5" cy="237.5" r="3"/><circle cx="470.5" cy="239.5" r="3"/><circle cx="471.5" cy="239.5" r="3"/><circle cx="471.5" cy="232.5" r="3"/><circle cx="471.5" cy="249.5" r="3"/><circle cx="471.5" cy="242.5" r="3"/><circle cx="472.5" cy="242.5" r="3"/><circle cx="471.5" cy="248.5" r="3"/><circle cx="472.5" cy="257.5" r="3"/><circle cx="473.5" cy="237.5" r="3"/><circle cx="473.5" cy="234.5" r="3"/><circle cx="473.5" cy="261.5" r="3"/><circle cx="474.5" cy="237.5" r="3"/><circle cx="473.5" cy="238.5" r="3"/><circle cx="473.5" cy="248.5" r="3"/><circle cx="474.5" cy="241.5" r="3"/><circle cx="474.5" cy="243.5" r="3"/><circle cx="474.5" cy="238.5" r="3"/><circle cx="475.5" cy="248.5" r="3"/><circle cx="474.5" cy="237.5" r="3"/><circle cx="474.5" cy="234.5" r="3"/><circle cx="474.5" cy="233.5" r="3"/><circle cx="474.5" cy="256.5" r="3"/><circle cx="475.5" cy="250.5" r="3"/><circle cx="474.5" cy="251.5" r="3"/><circle cx="476.5" cy="234.5" r="3"/><circle cx="475.5" cy="237.5" r="3"/><circle cx="475.5" cy="237.5" r="3"/><circle cx="476.5" cy="232.5" r="3"/><circle cx="477.5" cy="244.5" r="3"/><circle cx="477.5" cy="229.5" r="3"/><circle cx="477.5" cy="236.5" r="3"/><circle cx="476.5" cy="230.5" r="3"/><circle cx="476.5" cy="231.5" r="3"/><circle cx="476.5" cy="228.5" r="3"/><circle cx="477.5" cy="232.5" r="3"/><circle cx="477.5" cy="250.5" r="3"/><circle cx="477.5" cy="263.5" r="3"/><circle cx="478.5" cy="227.5" r="3"/><circle cx="478.5" cy="235.5" r="3"/><circle cx="477.5" cy="282.5" r="3"/><circle cx="479.5" cy="226.5" r="3"/><circle cx="479.5" cy="242.5" r="3"/><circle cx="478.5" cy="243.5" r="3"/><circle cx="479.5" cy="226.5" r="3"/><circle cx="478.5" cy="241.5" r="3"/><circle cx="478.5" cy="230.5" r="3"/><circle cx="478.5" cy="243.5" r="3"/><circle cx="478.5" cy="226.5" r="3"/><circle cx="479.5" cy="242.5" r="3"/><circle cx="479.5" cy="240.5" r="3"/><circle cx="480.5" cy="235.5" r="3"/><circle cx="480.5" cy="235.5" r="3"/><circle cx="479.5" cy="228.5" r="3"/><circle cx="480.5" cy="238.5" r="3"/><circle cx="480.5" cy="227.5" r="3"/><circle cx="480.5" cy="230.5" r="3"/><circle cx="481.5" cy="226.5" r="3"/><circle cx="480.5" cy="252.5" r="3"/><circle cx="481.5" cy="224.5" r="3"/><circle cx="482.5" cy="240.5" r="3"/><circle cx="483.5" cy="228.5" r="3"/><circle cx="483.5" cy="220.5" r="3"/><circle cx="483.5" cy="241.5" r="3"/><circle cx="482.5" cy="222.5" r="3"/><circle cx="482.5" cy="248.5" r="3"/><circle cx="484.5" cy="219.5" r="3"/><circle cx="483.5" cy="217.5" r="3"/><circle cx="483.5" cy="239.5" r="3"/><circle cx="484.5" cy="233.5" r="3"/><circle cx="484.5" cy="234.5" r="3"/><circle cx="483.5" cy="223.5" r="3"/><circle cx="483.5" cy="253.5" r="3"/><circle cx="484.5" cy="251.5" r="3"/><circle cx="485.5" cy="229.5" r="3"/><circle cx="485.5" cy="234.5" r="3"/><circle cx="485.5" cy="243.5" r="3"/><circle cx="486.5" cy="215.5" r="3"/><circle cx="486.5" cy="220.5" r="3"/><circle cx="486.5" cy="231.5" r="3"/><circle cx="486.5" cy="235.5" r="3"/><circle cx="486.5" cy="238.5" r="3"/><circle cx="486.5" cy="222.5" r="3"/><circle cx="486.5" cy="229.5" r="3"/><circle cx="485.5" cy="225.5" r="3"/><circle cx="486.5" cy="253.5" r="3"/><circle cx="485.5" cy="258.5" r="3"/><circle cx="487.5" cy="235.5" r="3"/><circle cx="487.5" cy="225.5" r="3"/><circle cx="487.5" cy="232.5" r="3"/><circle cx="487.5" cy="222.5" r="3"/><circle cx="486.5" cy="225.5" r="3"/><circle cx="486.5" cy="229.5" r="3"/><circle cx="486.5" cy="226.5" r="3"/><circle cx="486.5" cy="239.5" r="3"/><circle cx="488.5" cy="236.5" r="3"/><circle cx="487.5" cy="227.5" r="3"/><circle cx="488.5" cy="228.5" r="3"/><circle cx="487.5" cy="235.5" r="3"/><circle cx="487.5" cy="234.5" r="3"/><circle cx="488.5" cy="222.5" r="3"/><circle cx="489.5" cy="222.5" r="3"/><circle cx="488.5" cy="236.5" r="3"/><circle cx="489.5" cy="233.5" r="3"/><circle cx="489.5" cy="238.5" r="3"/><circle cx="490.5" cy="225.5" r="3"/><circle cx="489.5" cy="239.5" r="3"/><circle cx="490.5" cy="231.5" r="3"/><circle cx="489.5" cy="285.5" r="3"/><circle cx="491.5" cy="230.5" r="3"/><circle cx="490.5" cy="227.5" r="3"/><circle cx="490.5" cy="232.5" r="3"/><circle cx="491.5" cy="227.5" r="3"/><circle cx="490.5" cy="228.5" r="3"/><circle cx="492.5" cy="223.5" r="3"/><circle cx="491.5" cy="241.5" r="3"/><circle cx="492.5" cy="231.5" r="3"/><circle cx="492.5" cy="225.5" r="3"/><circle cx="492.5" cy="231.5" r="3"/><circle cx="492.5" cy="229.5" r="3"/><circle cx="492.5" cy="240.5" r="3"/><circle cx="492.5" cy="223.5" r="3"/><circle cx="491.5" cy="251.5" r="3"/><circle cx="492.5" cy="261.5" r="3"/><circle cx="491.5" cy="279.5" r="3"/><circle cx="492.5" cy="228.5" r="3"/><circle cx="493.5" cy="227.5" r="3"/><circle cx="492.5" cy="239.5" r="3"/><circle cx="493.5" cy="233.5" r="3"/><circle cx="492.5" cy="229.5" r="3"/><circle cx="492.5" cy="224.5" r="3"/><circle cx="492.5" cy="242.5" r="3"/><circle cx="493.5" cy="247.5" r="3"/><circle cx="493.5" cy="274.5" r="3"/><circle cx="494.5" cy="243.5" r="3"/><circle cx="494.5" cy="231.5" r="3"/><circle cx="495.5" cy="244.5" r="3"/><circle cx="495.5" cy="226.5" r="3"/><circle cx="494.5" cy="243.5" r="3"/><circle cx="495.5" cy="252.5" r="3"/><circle cx="495.5" cy="235.5" r="3"/><circle cx="495.5" cy="228.5" r="3"/><circle cx="495.5" cy="231.5" r="3"/><circle cx="496.5" cy="232.5" r="3"/><circle cx="496.5" cy="250.5" r="3"/><circle cx="495.5" cy="276.5" r="3"/><circle cx="496.5" cy="232.5" r="3"/><circle cx="496.5" cy="229.5" r="3"/><circle cx="496.5" cy="239.5" r="3"/><circle cx="496.5" cy="228.5" r="3"/><circle cx="496.5" cy="235.5" r="3"/><circle cx="498.5" cy="231.5" r="3"/><circle cx="498.5" cy="233.5" r="3"/><circle cx="498.5" cy="235.5" r="3"/><circle cx="498.5" cy="233.5" r="3"/><circle cx="498.5" cy="246.5" r="3"/><circle cx="497.5" cy="258.5" r="3"/><circle cx="499.5" cy="233.5" r="3"/><circle cx="498.5" cy="233.5" r="3"/><circle cx="499.5" cy="243.5" r="3"/><circle cx="499.5" cy="242.5" r="3"/><circle cx="499.5" cy="237.5" r="3"/><circle cx="501.5" cy="240.5" r="3"/><circle cx="501.5" cy="231.5" r="3"/><circle cx="501.5" cy="237.5" r="3"/><circle cx="500.5" cy="239.5" r="3"/><circle cx="501.5" cy="255.5" r="3"/><circle cx="500.5" cy="279.5" r="3"/><circle cx="501.5" cy="228.5" r="3"/><circle cx="501.5" cy="230.5" r="3"/><circle cx="502.5" cy="242.5" r="3"/><circle cx="501.5" cy="228.5" r="3"/><circle cx="501.5" cy="242.5" r="3"/><circle cx="501.5" cy="257.5" r="3"/><circle cx="503.5" cy="228.5" r="3"/><circle cx="503.5" cy="249.5" r="3"/><circle cx="504.5" cy="231.5" r="3"/><circle cx="504.5" cy="237.5" r="3"/><circle cx="503.5" cy="230.5" r="3"/><circle cx="503.5" cy="262.5" r="3"/><circle cx="504.5" cy="249.5" r="3"/><circle cx="505.5" cy="241.5" r="3"/><circle cx="505.5" cy="234.5" r="3"/><circle cx="505.5" cy="235.5" r="3"/><circle cx="504.5" cy="234.5" r="3"/><circle cx="504.5" cy="235.5" r="3"/><circle cx="505.5" cy="256.5" r="3"/><circle cx="506.5" cy="240.5" r="3"/><circle cx="506.5" cy="239.5" r="3"/><circle cx="505.5" cy="228.5" r="3"/><circle cx="505.5" cy="227.5" r="3"/><circle cx="506.5" cy="223.5" r="3"/><circle cx="505.5" cy="237.5" r="3"/><circle cx="505.5" cy="228.5" r="3"/><circle cx="506.5" cy="220.5" r="3"/><circle cx="506.5" cy="232.5" r="3"/><circle cx="506.5" cy="219.5" r="3"/><circle cx="507.5" cy="231.5" r="3"/><circle cx="507.5" cy="251.5" r="3"/><circle cx="508.5" cy="229.5" r="3"/><circle cx="508.5" cy="227.5" r="3"/><circle cx="508.5" cy="222.5" r="3"/><circle cx="507.5" cy="240.5" r="3"/><circle cx="507.5" cy="229.5" r="3"/><circle cx="508.5" cy="231.5" r="3"/><circle cx="507.5" cy="213.5" r="3"/><circle cx="508.5" cy="233.5" r="3"/><circle cx="507.5" cy="219.5" r="3"/><circle cx="507.5" cy="228.5" r="3"/><circle cx="507.5" cy="246.5" r="3"/><circle cx="508.5" cy="239.5" r="3"/><circle cx="508.5" cy="226.5" r="3"/><circle cx="509.5" cy="214.5" r="3"/><circle cx="509.5" cy="220.5" r="3"/><circle cx="508.5" cy="222.5" r="3"/><circle cx="508.5" cy="215.5" r="3"/><circle cx="508.5" cy="218.5" r="3"/><circle cx="508.5" cy="230.5" r="3"/><circle cx="508.5" cy="225.5" r="3"/><circle cx="509.5" cy="223.5" r="3"/><circle cx="510.5" cy="231.5" r="3"/><circle cx="510.5" cy="220.5" r="3"/><circle cx="510.5" cy="235.5" r="3"/><circle cx="510.5" cy="212.5" r="3"/><circle cx="510.5" cy="223.5" r="3"/><circle cx="509.5" cy="226.5" r="3"/><circle cx="509.5" cy="223.5" r="3"/><circle cx="509.5" cy="232.5" r="3"/><circle cx="509.5" cy="236.5" r="3"/><circle cx="510.5" cy="218.5" r="3"/><circle cx="511.5" cy="221.5" r="3"/><circle cx="511.5" cy="227.5" r="3"/><circle cx="510.5" cy="217.5" r="3"/><circle cx="511.5" cy="222.5" r="3"/><circle cx="511.5" cy="234.5" r="3"/><circle cx="512.5" cy="221.5" r="3"/><circle cx="511.5" cy="228.5" r="3"/><circle cx="512.5" cy="222.5" r="3"/><circle cx="512.5" cy="233.5" r="3"/><circle cx="512.5" cy="240.5" r="3"/><circle cx="513.5" cy="230.5" r="3"/><circle cx="512.5" cy="213.5" r="3"/><circle cx="513.5" cy="218.5" r="3"/><circle cx="513.5" cy="237.5" r="3"/><circle cx="512.5" cy="223.5" r="3"/><circle cx="513.5" cy="251.5" r="3"/><circle cx="512.5" cy="273.5" r="3"/><circle cx="514.5" cy="228.5" r="3"/><circle cx="513.5" cy="214.5" r="3"/><circle cx="513.5" cy="219.5" r="3"/><circle cx="514.5" cy="222.5" r="3"/><circle cx="514.5" cy="217.5" r="3"/><circle cx="514.5" cy="231.5" r="3"/><circle cx="514.5" cy="227.5" r="3"/><circle cx="513.5" cy="215.5" r="3"/><circle cx="513.5" cy="238.5" r="3"/><circle cx="514.5" cy="223.5" r="3"/><circle cx="514.5" cy="217.5" r="3"/><circle cx="515.5" cy="214.5" r="3"/><circle cx="515.5" cy="214.5" r="3"/><circle cx="514.5" cy="214.5" r="3"/><circle cx="515.5" cy="222.5" r="3"/><circle cx="515.5" cy="222.5" r="3"/><circle cx="515.5" cy="218.5" r="3"/><circle cx="515.5" cy="219.5" r="3"/><circle cx="516.5" cy="216.5" r="3"/><circle cx="515.5" cy="234.5" r="3"/><circle cx="516.5" cy="229.5" r="3"/><circle cx="516.5" cy="228.5" r="3"/><circle cx="515.5" cy="215.5" r="3"/><circle cx="516.5" cy="212.5" r="3"/><circle cx="515.5" cy="228.5" r="3"/><circle cx="515.5" cy="231.5" r="3"/><circle cx="516.5" cy="233.5" r="3"/><circle cx="516.5" cy="213.5" r="3"/><circle cx="517.5" cy="226.5" r="3"/><circle cx="517.5" cy="212.5" r="3"/><circle cx="517.5" cy="234.5" r="3"/><circle cx="517.5" cy="228.5" r="3"/><circle cx="516.5" cy="225.5" r="3"/><circle cx="517.5" cy="231.5" r="3"/><circle cx="518.5" cy="222.5" r="3"/><circle cx="518.5" cy="224.5" r="3"/><circle cx="518.5" cy="225.5" r="3"/><circle cx="518.5" cy="228.5" r="3"/><circle cx="518.5" cy="229.5" r="3"/><circle cx="518.5" cy="227.5" r="3"/><circle cx="518.5" cy="230.5" r="3"/><circle cx="520.5" cy="233.5" r="3"/><circle cx="519.5" cy="231.5" r="3"/><circle cx="521.5" cy="239.5" r="3"/><circle cx="520.5" cy="237.5" r="3"/><circle cx="521.5" cy="242.5" r="3"/><circle cx="522.5" cy="233.5" r="3"/><circle cx="521.5" cy="236.5" r="3"/><circle cx="522.5" cy="236.5" r="3"/><circle cx="521.5" cy="230.5" r="3"/><circle cx="521.5" cy="227.5" r="3"/><circle cx="523.5" cy="228.5" r="3"/><circle cx="523.5" cy="237.5" r="3"/><circle cx="523.5" cy="231.5" r="3"/><circle cx="524.5" cy="232.5" r="3"/><circle cx="523.5" cy="232.5" r="3"/><circle cx="524.5" cy="230.5" r="3"/><circle cx="524.5" cy="234.5" r="3"/><circle cx="525.5" cy="237.5" r="3"/><circle cx="524.5" cy="233.5" r="3"/><circle cx="525.5" cy="235.5" r="3"/><circle cx="525.5" cy="232.5" r="3"/><circle cx="524.5" cy="231.5" r="3"/><circle cx="525.5" cy="243.5" r="3"/><circle cx="526.5" cy="241.5" r="3"/><circle cx="526.5" cy="242.5" r="3"/><circle cx="527.5" cy="240.5" r="3"/><circle cx="527.5" cy="233.5" r="3"/><circle cx="526.5" cy="238.5" r="3"/><circle cx="527.5" cy="240.5" r="3"/><circle cx="527.5" cy="237.5" r="3"/><circle cx="526.5" cy="295.5" r="3"/><circle cx="528.5" cy="239.5" r="3"/><circle cx="529.5" cy="248.5" r="3"/><circle cx="528.5" cy="266.5" r="3"/><circle cx="530.5" cy="240.5" r="3"/><circle cx="530.5" cy="232.5" r="3"/><circle cx="530.5" cy="233.5" r="3"/><circle cx="530.5" cy="242.5" r="3"/><circle cx="530.5" cy="238.5" r="3"/><circle cx="530.5" cy="235.5" r="3"/><circle cx="530.5" cy="251.5" r="3"/><circle cx="531.5" cy="235.5" r="3"/><circle cx="530.5" cy="240.5" r="3"/><circle cx="531.5" cy="233.5" r="3"/><circle cx="531.5" cy="240.5" r="3"/><circle cx="532.5" cy="239.5" r="3"/><circle cx="532.5" cy="230.5" r="3"/><circle cx="532.5" cy="246.5" r="3"/><circle cx="531.5" cy="249.5" r="3"/><circle cx="532.5" cy="255.5" r="3"/><circle cx="533.5" cy="241.5" r="3"/><circle cx="532.5" cy="235.5" r="3"/><circle cx="533.5" cy="241.5" r="3"/><circle cx="532.5" cy="231.5" r="3"/><circle cx="533.5" cy="251.5" r="3"/><circle cx="533.5" cy="235.5" r="3"/><circle cx="534.5" cy="233.5" r="3"/><circle cx="533.5" cy="236.5" r="3"/><circle cx="533.5" cy="230.5" r="3"/><circle cx="534.5" cy="257.5" r="3"/><circle cx="533.5" cy="248.5" r="3"/><circle cx="533.5" cy="285.5" r="3"/><circle cx="535.5" cy="235.5" r="3"/><circle cx="535.5" cy="226.5" r="3"/><circle cx="535.5" cy="241.5" r="3"/><circle cx="534.5" cy="237.5" r="3"/><circle cx="535.5" cy="258.5" r="3"/><circle cx="535.5" cy="232.5" r="3"/><circle cx="535.5" cy="234.5" r="3"/><circle cx="536.5" cy="230.5" r="3"/><circle cx="536.5" cy="252.5" r="3"/><circle cx="537.5" cy="240.5" r="3"/><circle cx="537.5" cy="241.5" r="3"/><circle cx="537.5" cy="231.5" r="3"/><circle cx="537.5" cy="230.5" r="3"/><circle cx="537.5" cy="227.5" r="3"/><circle cx="536.5" cy="224.5" r="3"/><circle cx="537.5" cy="223.5" r="3"/><circle cx="537.5" cy="233.5" r="3"/><circle cx="538.5" cy="225.5" r="3"/><circle cx="538.5" cy="230.5" r="3"/><circle cx="538.5" cy="234.5" r="3"/><circle cx="537.5" cy="228.5" r="3"/><circle cx="538.5" cy="230.5" r="3"/><circle cx="538.5" cy="224.5" r="3"/><circle cx="538.5" cy="252.5" r="3"/><circle cx="539.5" cy="227.5" r="3"/><circle cx="538.5" cy="234.5" r="3"/><circle cx="539.5" cy="231.5" r="3"/><circle cx="538.5" cy="223.5" r="3"/><circle cx="538.5" cy="238.5" r="3"/><circle cx="539.5" cy="225.5" r="3"/><circle cx="538.5" cy="232.5" r="3"/><circle cx="538.5" cy="272.5" r="3"/><circle cx="540.5" cy="228.5" r="3"/><circle cx="539.5" cy="225.5" r="3"/><circle cx="539.5" cy="223.5" r="3"/><circle cx="539.5" cy="248.5" r="3"/><circle cx="541.5" cy="235.5" r="3"/><circle cx="540.5" cy="234.5" r="3"/><circle cx="541.5" cy="222.5" r="3"/><circle cx="541.5" cy="228.5" r="3"/><circle cx="541.5" cy="233.5" r="3"/><circle cx="540.5" cy="274.5" r="3"/><circle cx="541.5" cy="225.5" r="3"/><circle cx="542.5" cy="232.5" r="3"/><circle cx="542.5" cy="221.5" r="3"/><circle cx="541.5" cy="232.5" r="3"/><circle cx="542.5" cy="219.5" r="3"/><circle cx="542.5" cy="230.5" r="3"/><circle cx="542.5" cy="230.5" r="3"/><circle cx="542.5" cy="224.5" r="3"/><circle cx="543.5" cy="224.5" r="3"/><circle cx="543.5" cy="221.5" r="3"/><circle cx="542.5" cy="221.5" r="3"/><circle cx="542.5" cy="238.5" r="3"/><circle cx="542.5" cy="228.5" r="3"/><circle cx="543.5" cy="226.5" r="3"/><circle cx="543.5" cy="218.5" r="3"/><circle cx="543.5" cy="219.5" r="3"/><circle cx="544.5" cy="221.5" r="3"/><circle cx="544.5" cy="238.5" r="3"/><circle cx="545.5" cy="217.5" r="3"/><circle cx="545.5" cy="219.5" r="3"/><circle cx="545.5" cy="240.5" r="3"/><circle cx="545.5" cy="221.5" r="3"/><circle cx="545.5" cy="226.5" r="3"/><circle cx="545.5" cy="227.5" r="3"/><circle cx="547.5" cy="218.5" r="3"/><circle cx="546.5" cy="225.5" r="3"/><circle cx="547.5" cy="219.5" r="3"/><circle cx="547.5" cy="218.5" r="3"/><circle cx="547.5" cy="220.5" r="3"/><circle cx="548.5" cy="230.5" r="3"/><circle cx="548.5" cy="240.5" r="3"/><circle cx="548.5" cy="256.5" r="3"/><circle cx="548.5" cy="254.5" r="3"/><circle cx="549.5" cy="218.5" r="3"/><circle cx="549.5" cy="218.5" r="3"/><circle cx="549.5" cy="220.5" r="3"/><circle cx="549.5" cy="223.5" r="3"/><circle cx="549.5" cy="225.5" r="3"/><circle cx="550.5" cy="225.5" r="3"/><circle cx="550.5" cy="235.5" r="3"/><circle cx="551.5" cy="224.5" r="3"/><circle cx="550.5" cy="221.5" r="3"/><circle cx="550.5" cy="215.5" r="3"/><circle cx="550.5" cy="222.5" r="3"/><circle cx="551.5" cy="220.5" r="3"/><circle cx="551.5" cy="221.5" r="3"/><circle cx="551.5" cy="223.5" r="3"/><circle cx="551.5" cy="218.5" r="3"/><circle cx="551.5" cy="231.5" r="3"/><circle cx="553.5" cy="218.5" r="3"/><circle cx="553.5" cy="222.5" r="3"/><circle cx="552.5" cy="213.5" r="3"/><circle cx="553.5" cy="219.5" r="3"/><circle cx="554.5" cy="218.5" r="3"/><circle cx="554.5" cy="221.5" r="3"/><circle cx="554.5" cy="211.5" r="3"/><circle cx="554.5" cy="215.5" r="3"/><circle cx="555.5" cy="214.5" r="3"/><circle cx="556.5" cy="220.5" r="3"/><circle cx="555.5" cy="218.5" r="3"/><circle cx="556.5" cy="214.5" r="3"/><circle cx="557.5" cy="208.5" r="3"/><circle cx="556.5" cy="205.5" r="3"/><circle cx="556.5" cy="203.5" r="3"/><circle cx="556.5" cy="204.5" r="3"/><circle cx="557.5" cy="219.5" r="3"/><circle cx="557.5" cy="216.5" r="3"/><circle cx="557.5" cy="203.5" r="3"/><circle cx="558.5" cy="203.5" r="3"/><circle cx="558.5" cy="220.5" r="3"/><circle cx="558.5" cy="216.5" r="3"/><circle cx="560.5" cy="220.5" r="3"/><circle cx="559.5" cy="210.5" r="3"/><circle cx="559.5" cy="212.5" r="3"/><circle cx="559.5" cy="221.5" r="3"/><circle cx="559.5" cy="220.5" r="3"/><circle cx="560.5" cy="206.5" r="3"/><circle cx="560.5" cy="231.5" r="3"/><circle cx="560.5" cy="211.5" r="3"/><circle cx="560.5" cy="219.5" r="3"/><circle cx="560.5" cy="212.5" r="3"/><circle cx="560.5" cy="226.5" r="3"/><circle cx="560.5" cy="207.5" r="3"/><circle cx="561.5" cy="219.5" r="3"/><circle cx="561.5" cy="210.5" r="3"/><circle cx="561.5" cy="227.5" r="3"/><circle cx="561.5" cy="218.5" r="3"/><circle cx="562.5" cy="212.5" r="3"/><circle cx="562.5" cy="231.5" r="3"/><circle cx="562.5" cy="217.5" r="3"/><circle cx="562.5" cy="211.5" r="3"/><circle cx="563.5" cy="213.5" r="3"/><circle cx="563.5" cy="227.5" r="3"/><circle cx="562.5" cy="220.5" r="3"/><circle cx="562.5" cy="213.5" r="3"/><circle cx="562.5" cy="213.5" r="3"/><circle cx="563.5" cy="220.5" r="3"/><circle cx="562.5" cy="234.5" r="3"/><circle cx="563.5" cy="247.5" r="3"/><circle cx="563.5" cy="218.5" r="3"/><circle cx="564.5" cy="219.5" r="3"/><circle cx="564.5" cy="216.5" r="3"/><circle cx="563.5" cy="219.5" r="3"/><circle cx="564.5" cy="222.5" r="3"/><circle cx="564.5" cy="223.5" r="3"/><circle cx="563.5" cy="219.5" r="3"/><circle cx="563.5" cy="235.5" r="3"/><circle cx="564.5" cy="227.5" r="3"/><circle cx="564.5" cy="229.5" r="3"/><circle cx="564.5" cy="218.5" r="3"/><circle cx="564.5" cy="229.5" r="3"/><circle cx="565.5" cy="228.5" r="3"/><circle cx="566.5" cy="222.5" r="3"/><circle cx="566.5" cy="231.5" r="3"/><circle cx="566.5" cy="226.5" r="3"/><circle cx="566.5" cy="228.5" r="3"/><circle cx="566.5" cy="224.5" r="3"/><circle cx="566.5" cy="219.5" r="3"/><circle cx="567.5" cy="240.5" r="3"/><circle cx="567.5" cy="222.5" r="3"/><circle cx="566.5" cy="222.5" r="3"/><circle cx="568.5" cy="226.5" r="3"/><circle cx="568.5" cy="229.5" r="3"/><circle cx="569.5" cy="222.5" r="3"/><circle cx="569.5" cy="223.5" r="3"/><circle cx="568.5" cy="227.5" r="3"/><circle cx="569.5" cy="233.5" r="3"/><circle cx="570.5" cy="222.5" r="3"/><circle cx="569.5" cy="245.5" r="3"/><circle cx="571.5" cy="228.5" r="3"/><circle cx="570.5" cy="223.5" r="3"/><circle cx="570.5" cy="223.5" r="3"/><circle cx="570.5" cy="226.5" r="3"/><circle cx="571.5" cy="226.5" r="3"/><circle cx="571.5" cy="220.5" r="3"/><circle cx="571.5" cy="220.5" r="3"/><circle cx="571.5" cy="240.5" r="3"/><circle cx="572.5" cy="218.5" r="3"/><circle cx="572.5" cy="224.5" r="3"/><circle cx="573.5" cy="230.5" r="3"/><circle cx="572.5" cy="226.5" r="3"/><circle cx="573.5" cy="220.5" r="3"/><circle cx="574.5" cy="225.5" r="3"/><circle cx="573.5" cy="226.5" r="3"/><circle cx="574.5" cy="232.5" r="3"/><circle cx="575.5" cy="222.5" r="3"/><circle cx="575.5" cy="218.5" r="3"/><circle cx="575.5" cy="240.5" r="3"/><circle cx="575.5" cy="219.5" r="3"/><circle cx="576.5" cy="229.5" r="3"/><circle cx="576.5" cy="217.5" r="3"/><circle cx="576.5" cy="228.5" r="3"/><circle cx="576.5" cy="221.5" r="3"/><circle cx="576.5" cy="221.5" r="3"/><circle cx="576.5" cy="227.5" r="3"/><circle cx="575.5" cy="228.5" r="3"/><circle cx="576.5" cy="221.5" r="3"/><circle cx="576.5" cy="218.5" r="3"/><circle cx="576.5" cy="223.5" r="3"/><circle cx="576.5" cy="217.5" r="3"/><circle cx="577.5" cy="217.5" r="3"/><circle cx="577.5" cy="216.5" r="3"/><circle cx="577.5" cy="217.5" r="3"/><circle cx="578.5" cy="214.5" r="3"/><circle cx="577.5" cy="219.5" r="3"/><circle cx="577.5" cy="227.5" r="3"/><circle cx="578.5" cy="229.5" r="3"/><circle cx="578.5" cy="214.5" r="3"/><circle cx="579.5" cy="219.5" r="3"/><circle cx="578.5" cy="232.5" r="3"/><circle cx="579.5" cy="216.5" r="3"/><circle cx="580.5" cy="214.5" r="3"/><circle cx="579.5" cy="236.5" r="3"/><circle cx="581.5" cy="212.5" r="3"/><circle cx="581.5" cy="224.5" r="3"/><circle cx="581.5" cy="222.5" r="3"/><circle cx="581.5" cy="220.5" r="3"/><circle cx="582.5" cy="214.5" r="3"/><circle cx="581.5" cy="224.5" r="3"/><circle cx="581.5" cy="212.5" r="3"/><circle cx="582.5" cy="213.5" r="3"/><circle cx="582.5" cy="218.5" r="3"/><circle cx="583.5" cy="220.5" r="3"/><circle cx="582.5" cy="220.5" r="3"/><circle cx="583.5" cy="220.5" r="3"/><circle cx="583.5" cy="222.5" r="3"/><circle cx="584.5" cy="225.5" r="3"/><circle cx="584.5" cy="227.5" r="3"/><circle cx="584.5" cy="222.5" r="3"/><circle cx="584.5" cy="228.5" r="3"/><circle cx="585.5" cy="220.5" r="3"/><circle cx="584.5" cy="226.5" r="3"/><circle cx="584.5" cy="222.5" r="3"/><circle cx="584.5" cy="226.5" r="3"/><circle cx="584.5" cy="228.5" r="3"/><circle cx="584.5" cy="239.5" r="3"/><circle cx="585.5" cy="221.5" r="3"/><circle cx="585.5" cy="223.5" r="3"/><circle cx="586.5" cy="222.5" r="3"/><circle cx="585.5" cy="225.5" r="3"/><circle cx="586.5" cy="233.5" r="3"/><circle cx="586.5" cy="248.5" r="3"/><circle cx="585.5" cy="249.5" r="3"/><circle cx="586.5" cy="232.5" r="3"/><circle cx="586.5" cy="230.5" r="3"/><circle cx="588.5" cy="227.5" r="3"/><circle cx="587.5" cy="230.5" r="3"/><circle cx="588.5" cy="233.5" r="3"/><circle cx="589.5" cy="224.5" r="3"/><circle cx="589.5" cy="229.5" r="3"/><circle cx="589.5" cy="232.5" r="3"/><circle cx="590.5" cy="227.5" r="3"/><circle cx="591.5" cy="233.5" r="3"/><circle cx="590.5" cy="235.5" r="3"/><circle cx="590.5" cy="225.5" r="3"/><circle cx="590.5" cy="229.5" r="3"/><circle cx="591.5" cy="227.5" r="3"/><circle cx="592.5" cy="227.5" r="3"/><circle cx="592.5" cy="230.5" r="3"/><circle cx="591.5" cy="234.5" r="3"/><circle cx="592.5" cy="225.5" r="3"/><circle cx="593.5" cy="231.5" r="3"/><circle cx="592.5" cy="232.5" r="3"/><circle cx="592.5" cy="230.5" r="3"/><circle cx="593.5" cy="226.5" r="3"/><circle cx="594.5" cy="226.5" r="3"/><circle cx="595.5" cy="227.5" r="3"/><circle cx="595.5" cy="233.5" r="3"/><circle cx="595.5" cy="232.5" r="3"/><circle cx="595.5" cy="228.5" r="3"/><circle cx="595.5" cy="227.5" r="3"/><circle cx="596.5" cy="235.5" r="3"/><circle cx="596.5" cy="231.5" r="3"/><circle cx="596.5" cy="246.5" r="3"/><circle cx="598.5" cy="234.5" r="3"/><circle cx="598.5" cy="229.5" r="3"/><circle cx="597.5" cy="224.5" r="3"/><circle cx="597.5" cy="224.5" r="3"/><circle cx="597.5" cy="229.5" r="3"/><circle cx="598.5" cy="237.5" r="3"/><circle cx="599.5" cy="225.5" r="3"/><circle cx="599.5" cy="227.5" r="3"/><circle cx="599.5" cy="240.5" r="3"/><circle cx="598.5" cy="231.5" r="3"/><circle cx="599.5" cy="240.5" r="3"/><circle cx="599.5" cy="225.5" r="3"/><circle cx="599.5" cy="232.5" r="3"/><circle cx="600.5" cy="225.5" r="3"/><circle cx="599.5" cy="222.5" r="3"/><circle cx="601.5" cy="220.5" r="3"/><circle cx="601.5" cy="221.5" r="3"/><circle cx="600.5" cy="232.5" r="3"/><circle cx="601.5" cy="228.5" r="3"/><circle cx="600.5" cy="220.5" r="3"/><circle cx="600.5" cy="220.5" r="3"/><circle cx="601.5" cy="228.5" r="3"/><circle cx="601.5" cy="251.5" r="3"/><circle cx="601.5" cy="242.5" r="3"/><circle cx="601.5" cy="232.5" r="3"/><circle cx="602.5" cy="240.5" r="3"/><circle cx="601.5" cy="283.5" r="3"/><circle cx="602.5" cy="215.5" r="3"/><circle cx="603.5" cy="228.5" r="3"/><circle cx="602.5" cy="226.5" r="3"/><circle cx="602.5" cy="223.5" r="3"/><circle cx="602.5" cy="222.5" r="3"/><circle cx="603.5" cy="229.5" r="3"/><circle cx="604.5" cy="214.5" r="3"/><circle cx="605.5" cy="228.5" r="3"/><circle cx="605.5" cy="220.5" r="3"/><circle cx="605.5" cy="218.5" r="3"/><circle cx="605.5" cy="228.5" r="3"/><circle cx="605.5" cy="220.5" r="3"/><circle cx="606.5" cy="223.5" r="3"/><circle cx="606.5" cy="217.5" r="3"/><circle cx="605.5" cy="216.5" r="3"/><circle cx="606.5" cy="221.5" r="3"/><circle cx="606.5" cy="223.5" r="3"/><circle cx="606.5" cy="218.5" r="3"/><circle cx="607.5" cy="222.5" r="3"/><circle cx="606.5" cy="238.5" r="3"/><circle cx="607.5" cy="225.5" r="3"/><circle cx="606.5" cy="235.5" r="3"/><circle cx="608.5" cy="214.5" r="3"/><circle cx="608.5" cy="221.5" r="3"/><circle cx="608.5" cy="273.5" r="3"/><circle cx="608.5" cy="216.5" r="3"/><circle cx="608.5" cy="231.5" r="3"/><circle cx="609.5" cy="232.5" r="3"/><circle cx="609.5" cy="228.5" r="3"/><circle cx="609.5" cy="229.5" r="3"/><circle cx="609.5" cy="223.5" r="3"/><circle cx="609.5" cy="230.5" r="3"/><circle cx="609.5" cy="234.5" r="3"/><circle cx="609.5" cy="234.5" r="3"/><circle cx="609.5" cy="223.5" r="3"/><circle cx="610.5" cy="221.5" r="3"/><circle cx="610.5" cy="230.5" r="3"/><circle cx="611.5" cy="216.5" r="3"/><circle cx="610.5" cy="213.5" r="3"/><circle cx="611.5" cy="213.5" r="3"/><circle cx="536.5" cy="239.5" r="3"/><circle cx="535.5" cy="246.5" r="3"/><circle cx="356.5" cy="235.5" r="3"/><circle cx="355.5" cy="242.5" r="3"/><circle cx="193.5" cy="242.5" r="3"/><circle cx="193.5" cy="251.5" r="3"/><circle cx="191.5" cy="251.5" r="3"/><circle cx="190.5" cy="257.5" r="3"/><circle cx="376.5" cy="242.5" r="3"/><circle cx="372.5" cy="247.5" r="3"/><circle cx="607.5" cy="241.5" r="3"/><circle cx="609.5" cy="243.5" r="3"/><circle cx="107.5" cy="264.5" r="3"/><circle cx="111.5" cy="272.5" r="3"/><circle cx="112.5" cy="274.5" r="3"/><circle cx="286.5" cy="247.5" r="3"/><circle cx="286.5" cy="253.5" r="3"/><circle cx="287.5" cy="255.5" r="3"/><circle cx="286.5" cy="261.5" r="3"/><circle cx="285.5" cy="262.5" r="3"/><circle cx="286.5" cy="267.5" r="3"/><circle cx="285.5" cy="272.5" r="3"/><circle cx="285.5" cy="276.5" r="3"/><circle cx="287.5" cy="283.5" r="3"/><circle cx="289.5" cy="286.5" r="3"/><circle cx="289.5" cy="288.5" r="3"/><circle cx="186.5" cy="259.5" r="3"/><circle cx="184.5" cy="269.5" r="3"/><circle cx="187.5" cy="273.5" r="3"/><circle cx="188.5" cy="284.5" r="3"/><circle cx="190.5" cy="288.5" r="3"/><circle cx="189.5" cy="302.5" r="3"/><circle cx="188.5" cy="307.5" r="3"/><circle cx="175.5" cy="255.5" r="3"/><circle cx="175.5" cy="264.5" r="3"/><circle cx="481.5" cy="250.5" r="3"/><circle cx="481.5" cy="258.5" r="3"/><circle cx="480.5" cy="259.5" r="3"/><circle cx="479.5" cy="267.5" r="3"/><circle cx="485.5" cy="279.5" r="3"/><circle cx="107.5" cy="266.5" r="3"/><circle cx="104.5" cy="270.5" r="3"/><circle cx="104.5" cy="275.5" r="3"/><circle cx="103.5" cy="277.5" r="3"/><circle cx="107.5" cy="282.5" r="3"/><circle cx="106.5" cy="290.5" r="3"/><circle cx="185.5" cy="262.5" r="3"/><circle cx="185.5" cy="263.5" r="3"/><circle cx="187.5" cy="269.5" r="3"/><circle cx="280.5" cy="249.5" r="3"/><circle cx="279.5" cy="251.5" r="3"/><circle cx="282.5" cy="258.5" r="3"/><circle cx="594.5" cy="239.5" r="3"/><circle cx="594.5" cy="241.5" r="3"/><circle cx="592.5" cy="250.5" r="3"/><circle cx="493.5" cy="245.5" r="3"/><circle cx="495.5" cy="258.5" r="3"/><circle cx="496.5" cy="260.5" r="3"/><circle cx="494.5" cy="270.5" r="3"/><circle cx="494.5" cy="273.5" r="3"/><circle cx="497.5" cy="284.5" r="3"/><circle cx="496.5" cy="288.5" r="3"/><circle cx="496.5" cy="298.5" r="3"/><circle cx="113.5" cy="269.5" r="3"/><circle cx="113.5" cy="276.5" r="3"/><circle cx="118.5" cy="289.5" r="3"/><circle cx="434.5" cy="240.5" r="3"/><circle cx="434.5" cy="241.5" r="3"/><circle cx="317.5" cy="257.5" r="3"/><circle cx="318.5" cy="261.5" r="3"/><circle cx="318.5" cy="273.5" r="3"/><circle cx="314.5" cy="280.5" r="3"/><circle cx="313.5" cy="286.5" r="3"/><circle cx="314.5" cy="289.5" r="3"/><circle cx="317.5" cy="300.5" r="3"/><circle cx="315.5" cy="304.5" r="3"/><circle cx="262.5" cy="245.5" r="3"/><circle cx="264.5" cy="262.5" r="3"/><circle cx="261.5" cy="263.5" r="3"/><circle cx="421.5" cy="235.5" r="3"/><circle cx="420.5" cy="240.5" r="3"/><circle cx="438.5" cy="249.5" r="3"/><circle cx="441.5" cy="260.5" r="3"/><circle cx="436.5" cy="268.5" r="3"/><circle cx="213.5" cy="261.5" r="3"/><circle cx="215.5" cy="266.5" r="3"/><circle cx="215.5" cy="274.5" r="3"/><circle cx="213.5" cy="276.5" r="3"/><circle cx="216.5" cy="281.5" r="3"/><circle cx="212.5" cy="286.5" r="3"/><circle cx="477.5" cy="247.5" r="3"/><circle cx="476.5" cy="260.5" r="3"/><circle cx="477.5" cy="267.5" r="3"/><circle cx="154.5" cy="276.5" r="3"/><circle cx="155.5" cy="280.5" r="3"/><circle cx="152.5" cy="291.5" r="3"/><circle cx="295.5" cy="252.5" r="3"/><circle cx="295.5" cy="257.5" r="3"/><circle cx="296.5" cy="261.5" r="3"/><circle cx="297.5" cy="271.5" r="3"/><circle cx="298.5" cy="272.5" r="3"/><circle cx="418.5" cy="240.5" r="3"/><circle cx="416.5" cy="243.5" r="3"/><circle cx="116.5" cy="271.5" r="3"/><circle cx="115.5" cy="280.5" r="3"/><circle cx="113.5" cy="284.5" r="3"/><circle cx="297.5" cy="253.5" r="3"/><circle cx="294.5" cy="255.5" r="3"/><circle cx="540.5" cy="239.5" r="3"/><circle cx="541.5" cy="244.5" r="3"/><circle cx="539.5" cy="249.5" r="3"/><circle cx="540.5" cy="251.5" r="3"/><circle cx="542.5" cy="259.5" r="3"/><circle cx="539.5" cy="260.5" r="3"/><circle cx="543.5" cy="266.5" r="3"/><circle cx="307.5" cy="252.5" r="3"/><circle cx="306.5" cy="257.5" r="3"/><circle cx="484.5" cy="248.5" r="3"/><circle cx="481.5" cy="250.5" r="3"/><circle cx="410.5" cy="240.5" r="3"/><circle cx="407.5" cy="247.5" r="3"/><circle cx="248.5" cy="260.5" r="3"/><circle cx="246.5" cy="269.5" r="3"/><circle cx="247.5" cy="281.5" r="3"/><circle cx="380.5" cy="240.5" r="3"/><circle cx="380.5" cy="244.5" r="3"/><circle cx="382.5" cy="247.5" r="3"/><circle cx="380.5" cy="253.5" r="3"/><circle cx="130.5" cy="256.5" r="3"/><circle cx="126.5" cy="266.5" r="3"/><circle cx="129.5" cy="278.5" r="3"/><circle cx="130.5" cy="282.5" r="3"/><circle cx="127.5" cy="291.5" r="3"/><circle cx="126.5" cy="294.5" r="3"/><circle cx="130.5" cy="305.5" r="3"/><circle cx="176.5" cy="256.5" r="3"/><circle cx="176.5" cy="265.5" r="3"/><circle cx="166.5" cy="267.5" r="3"/><circle cx="166.5" cy="272.5" r="3"/><circle cx="164.5" cy="274.5" r="3"/><circle cx="163.5" cy="279.5" r="3"/><circle cx="349.5" cy="236.5" r="3"/><circle cx="350.5" cy="238.5" r="3"/><circle cx="349.5" cy="244.5" r="3"/><circle cx="350.5" cy="250.5" r="3"/><circle cx="348.5" cy="255.5" r="3"/><circle cx="350.5" cy="259.5" r="3"/><circle cx="354.5" cy="266.5" r="3"/><circle cx="311.5" cy="259.5" r="3"/><circle cx="313.5" cy="262.5" r="3"/><circle cx="311.5" cy="269.5" r="3"/><circle cx="314.5" cy="273.5" r="3"/><circle cx="316.5" cy="277.5" r="3"/><circle cx="314.5" cy="284.5" r="3"/><circle cx="280.5" cy="246.5" r="3"/><circle cx="278.5" cy="251.5" r="3"/><circle cx="282.5" cy="261.5" r="3"/><circle cx="282.5" cy="270.5" r="3"/><circle cx="129.5" cy="257.5" r="3"/><circle cx="131.5" cy="259.5" r="3"/><circle cx="418.5" cy="238.5" r="3"/><circle cx="420.5" cy="246.5" r="3"/><circle cx="517.5" cy="242.5" r="3"/><circle cx="518.5" cy="246.5" r="3"/><circle cx="515.5" cy="256.5" r="3"/><circle cx="137.5" cy="254.5" r="3"/><circle cx="132.5" cy="255.5" r="3"/><circle cx="541.5" cy="238.5" r="3"/><circle cx="541.5" cy="242.5" r="3"/><circle cx="541.5" cy="246.5" r="3"/><circle cx="540.5" cy="253.5" r="3"/><circle cx="552.5" cy="225.5" r="3"/><circle cx="551.5" cy="232.5" r="3"/><circle cx="551.5" cy="240.5" r="3"/><circle cx="555.5" cy="244.5" r="3"/><circle cx="182.5" cy="263.5" r="3"/><circle cx="184.5" cy="268.5" r="3"/><circle cx="181.5" cy="270.5" r="3"/><circle cx="181.5" cy="280.5" r="3"/><circle cx="334.5" cy="233.5" r="3"/><circle cx="334.5" cy="240.5" r="3"/><circle cx="153.5" cy="271.5" r="3"/><circle cx="151.5" cy="276.5" r="3"/><circle cx="451.5" cy="256.5" r="3"/><circle cx="449.5" cy="262.5" r="3"/><circle cx="450.5" cy="266.5" r="3"/><circle cx="446.5" cy="273.5" r="3"/><circle cx="509.5" cy="244.5" r="3"/><circle cx="505.5" cy="246.5" r="3"/><circle cx="454.5" cy="256.5" r="3"/><circle cx="456.5" cy="262.5" r="3"/><circle cx="332.5" cy="233.5" r="3"/><circle cx="332.5" cy="237.5" r="3"/><circle cx="204.5" cy="234.5" r="3"/><circle cx="205.5" cy="238.5" r="3"/><circle cx="593.5" cy="238.5" r="3"/><circle cx="595.5" cy="246.5" r="3"/><circle cx="595.5" cy="249.5" r="3"/><circle cx="285.5" cy="246.5" r="3"/><circle cx="288.5" cy="252.5" r="3"/><circle cx="300.5" cy="249.5" r="3"/><circle cx="302.5" cy="254.5" r="3"/><circle cx="127.5" cy="261.5" r="3"/><circle cx="127.5" cy="267.5" r="3"/><circle cx="125.5" cy="268.5" r="3"/><circle cx="123.5" cy="274.5" r="3"/><circle cx="122.5" cy="278.5" r="3"/><circle cx="465.5" cy="255.5" r="3"/><circle cx="461.5" cy="264.5" r="3"/><circle cx="465.5" cy="270.5" r="3"/><circle cx="462.5" cy="276.5" r="3"/><circle cx="462.5" cy="279.5" r="3"/><circle cx="461.5" cy="284.5" r="3"/><circle cx="495.5" cy="247.5" r="3"/><circle cx="493.5" cy="253.5" r="3"/><circle cx="495.5" cy="257.5" r="3"/><circle cx="294.5" cy="251.5" r="3"/><circle cx="295.5" cy="255.5" r="3"/><circle cx="292.5" cy="258.5" r="3"/><circle cx="294.5" cy="265.5" r="3"/><circle cx="289.5" cy="270.5" r="3"/><circle cx="292.5" cy="275.5" r="3"/><circle cx="299.5" cy="249.5" r="3"/><circle cx="298.5" cy="254.5" r="3"/><circle cx="296.5" cy="260.5" r="3"/><circle cx="332.5" cy="232.5" r="3"/><circle cx="329.5" cy="237.5" r="3"/><circle cx="536.5" cy="244.5" r="3"/><circle cx="536.5" cy="246.5" r="3"/><circle cx="298.5" cy="250.5" r="3"/><circle cx="300.5" cy="258.5" r="3"/><circle cx="300.5" cy="263.5" r="3"/><circle cx="102.5" cy="270.5" r="3"/><circle cx="105.5" cy="272.5" r="3"/><circle cx="101.5" cy="286.5" r="3"/><circle cx="103.5" cy="288.5" r="3"/><circle cx="509.5" cy="245.5" r="3"/><circle cx="511.5" cy="246.5" r="3"/><circle cx="130.5" cy="253.5" r="3"/><circle cx="131.5" cy="256.5" r="3"/><circle cx="587.5" cy="235.5" r="3"/><circle cx="589.5" cy="242.5" r="3"/><circle cx="586.5" cy="248.5" r="3"/><circle cx="590.5" cy="252.5" r="3"/><circle cx="585.5" cy="254.5" r="3"/><circle cx="463.5" cy="254.5" r="3"/><circle cx="463.5" cy="259.5" r="3"/><circle cx="463.5" cy="264.5" r="3"/><circle cx="466.5" cy="266.5" r="3"/><circle cx="468.5" cy="274.5" r="3"/><circle cx="468.5" cy="279.5" r="3"/><circle cx="309.5" cy="256.5" r="3"/><circle cx="310.5" cy="259.5" r="3"/><circle cx="309.5" cy="273.5" r="3"/><circle cx="569.5" cy="241.5" r="3"/><circle cx="564.5" cy="244.5" r="3"/><circle cx="111.5" cy="265.5" r="3"/><circle cx="111.5" cy="273.5" r="3"/><circle cx="537.5" cy="242.5" r="3"/><circle cx="538.5" cy="245.5" r="3"/><circle cx="537.5" cy="251.5" r="3"/><circle cx="535.5" cy="258.5" r="3"/><circle cx="535.5" cy="262.5" r="3"/><circle cx="537.5" cy="268.5" r="3"/><circle cx="319.5" cy="245.5" r="3"/><circle cx="317.5" cy="253.5" r="3"/><circle cx="253.5" cy="254.5" r="3"/><circle cx="252.5" cy="260.5" r="3"/><circle cx="462.5" cy="255.5" r="3"/><circle cx="461.5" cy="259.5" r="3"/><circle cx="281.5" cy="247.5" r="3"/><circle cx="279.5" cy="259.5" r="3"/><circle cx="281.5" cy="266.5" r="3"/><circle cx="281.5" cy="276.5" r="3"/><circle cx="280.5" cy="277.5" r="3"/><circle cx="281.5" cy="291.5" r="3"/><circle cx="282.5" cy="295.5" r="3"/><circle cx="147.5" cy="267.5" r="3"/><circle cx="149.5" cy="269.5" r="3"/><circle cx="149.5" cy="276.5" r="3"/><circle cx="150.5" cy="280.5" r="3"/><circle cx="148.5" cy="283.5" r="3"/><circle cx="574.5" cy="233.5" r="3"/><circle cx="574.5" cy="237.5" r="3"/><circle cx="202.5" cy="243.5" r="3"/><circle cx="203.5" cy="250.5" r="3"/><circle cx="210.5" cy="253.5" r="3"/><circle cx="212.5" cy="257.5" r="3"/><circle cx="567.5" cy="240.5" r="3"/><circle cx="565.5" cy="250.5" r="3"/><circle cx="177.5" cy="257.5" r="3"/><circle cx="175.5" cy="260.5" r="3"/><circle cx="271.5" cy="246.5" r="3"/><circle cx="272.5" cy="251.5" r="3"/><circle cx="277.5" cy="245.5" r="3"/><circle cx="276.5" cy="250.5" r="3"/><circle cx="275.5" cy="253.5" r="3"/><circle cx="273.5" cy="259.5" r="3"/><circle cx="212.5" cy="262.5" r="3"/><circle cx="214.5" cy="266.5" r="3"/><circle cx="119.5" cy="266.5" r="3"/><circle cx="118.5" cy="275.5" r="3"/><circle cx="104.5" cy="266.5" r="3"/><circle cx="104.5" cy="266.5" r="3"/><circle cx="420.5" cy="239.5" r="3"/><circle cx="421.5" cy="244.5" r="3"/><circle cx="608.5" cy="240.5" r="3"/><circle cx="610.5" cy="245.5" r="3"/><circle cx="208.5" cy="244.5" r="3"/><circle cx="208.5" cy="251.5" r="3"/><circle cx="308.5" cy="253.5" r="3"/><circle cx="306.5" cy="256.5" r="3"/><circle cx="305.5" cy="269.5" r="3"/><circle cx="302.5" cy="278.5" r="3"/><circle cx="304.5" cy="285.5" r="3"/><circle cx="543.5" cy="237.5" r="3"/><circle cx="542.5" cy="246.5" r="3"/><circle cx="207.5" cy="237.5" r="3"/><circle cx="204.5" cy="238.5" r="3"/><circle cx="206.5" cy="247.5" r="3"/><circle cx="209.5" cy="251.5" r="3"/><circle cx="210.5" cy="253.5" r="3"/><circle cx="207.5" cy="259.5" r="3"/><circle cx="210.5" cy="264.5" r="3"/><circle cx="212.5" cy="268.5" r="3"/><circle cx="210.5" cy="273.5" r="3"/><circle cx="212.5" cy="280.5" r="3"/><circle cx="210.5" cy="284.5" r="3"/><circle cx="131.5" cy="252.5" r="3"/><circle cx="131.5" cy="257.5" r="3"/><circle cx="443.5" cy="257.5" r="3"/><circle cx="445.5" cy="267.5" r="3"/><circle cx="149.5" cy="271.5" r="3"/><circle cx="145.5" cy="273.5" r="3"/><circle cx="149.5" cy="279.5" r="3"/><circle cx="134.5" cy="254.5" r="3"/><circle cx="130.5" cy="258.5" r="3"/><circle cx="268.5" cy="243.5" r="3"/><circle cx="272.5" cy="246.5" r="3"/><circle cx="270.5" cy="252.5" r="3"/><circle cx="269.5" cy="257.5" r="3"/><circle cx="268.5" cy="265.5" r="3"/><circle cx="273.5" cy="270.5" r="3"/><circle cx="272.5" cy="275.5" r="3"/><circle cx="270.5" cy="280.5" r="3"/><circle cx="262.5" cy="246.5" r="3"/><circle cx="261.5" cy="252.5" r="3"/><circle cx="259.5" cy="258.5" r="3"/><circle cx="256.5" cy="263.5" r="3"/><circle cx="493.5" cy="244.5" r="3"/><circle cx="491.5" cy="253.5" r="3"/><circle cx="284.5" cy="246.5" r="3"/><circle cx="286.5" cy="251.5" r="3"/><circle cx="120.5" cy="269.5" r="3"/><circle cx="121.5" cy="275.5" r="3"/><circle cx="120.5" cy="281.5" r="3"/><circle cx="124.5" cy="286.5" r="3"/><circle cx="550.5" cy="237.5" r="3"/><circle cx="551.5" cy="250.5" r="3"/><circle cx="231.5" cy="266.5" r="3"/><circle cx="230.5" cy="269.5" r="3"/><circle cx="430.5" cy="218.5" r="3"/><circle cx="430.5" cy="220.5" r="3"/><circle cx="184.5" cy="257.5" r="3"/><circle cx="185.5" cy="274.5" r="3"/><circle cx="185.5" cy="282.5" r="3"/><circle cx="187.5" cy="292.5" r="3"/><circle cx="188.5" cy="301.5" r="3"/><circle cx="189.5" cy="304.5" r="3"/><circle cx="564.5" cy="242.5" r="3"/><circle cx="565.5" cy="244.5" r="3"/><circle cx="509.5" cy="241.5" r="3"/><circle cx="510.5" cy="245.5" r="3"/><circle cx="107.5" cy="219.5" r="3"/><circle cx="107.5" cy="199.5" r="3"/><circle cx="108.5" cy="211.5" r="3"/><circle cx="109.5" cy="217.5" r="3"/><circle cx="111.5" cy="208.5" r="3"/><circle cx="107.5" cy="215.5" r="3"/><circle cx="109.5" cy="209.5" r="3"/><circle cx="106.5" cy="203.5" r="3"/><circle cx="145.5" cy="202.5" r="3"/><circle cx="142.5" cy="204.5" r="3"/><circle cx="144.5" cy="208.5" r="3"/><circle cx="143.5" cy="209.5" r="3"/><circle cx="143.5" cy="211.5" r="3"/><circle cx="141.5" cy="209.5" r="3"/><circle cx="142.5" cy="202.5" r="3"/><circle cx="143.5" cy="206.5" r="3"/><circle cx="174.5" cy="198.5" r="3"/><circle cx="178.5" cy="206.5" r="3"/><circle cx="177.5" cy="200.5" r="3"/><circle cx="173.5" cy="198.5" r="3"/><circle cx="177.5" cy="201.5" r="3"/><circle cx="175.5" cy="198.5" r="3"/><circle cx="175.5" cy="202.5" r="3"/><circle cx="177.5" cy="204.5" r="3"/><circle cx="205.5" cy="232.5" r="3"/><circle cx="204.5" cy="193.5" r="3"/><circle cx="208.5" cy="188.5" r="3"/><circle cx="205.5" cy="227.5" r="3"/><circle cx="207.5" cy="190.5" r="3"/><circle cx="203.5" cy="186.5" r="3"/><circle cx="203.5" cy="190.5" r="3"/><circle cx="207.5" cy="170.5" r="3"/><circle cx="206.5" cy="207.5" r="3"/><circle cx="204.5" cy="226.5" r="3"/><circle cx="207.5" cy="227.5" r="3"/><circle cx="208.5" cy="188.5" r="3"/><circle cx="205.5" cy="216.5" r="3"/><circle cx="207.5" cy="226.5" r="3"/><circle cx="203.5" cy="188.5" r="3"/><circle cx="207.5" cy="207.5" r="3"/><circle cx="208.5" cy="206.5" r="3"/><circle cx="205.5" cy="201.5" r="3"/><circle cx="205.5" cy="176.5" r="3"/><circle cx="204.5" cy="233.5" r="3"/><circle cx="208.5" cy="178.5" r="3"/><circle cx="206.5" cy="219.5" r="3"/><circle cx="204.5" cy="227.5" r="3"/><circle cx="204.5" cy="218.5" r="3"/><circle cx="207.5" cy="186.5" r="3"/><circle cx="204.5" cy="187.5" r="3"/><circle cx="207.5" cy="166.5" r="3"/><circle cx="205.5" cy="207.5" r="3"/><circle cx="208.5" cy="213.5" r="3"/><circle cx="207.5" cy="227.5" r="3"/><circle cx="208.5" cy="227.5" r="3"/><circle cx="206.5" cy="208.5" r="3"/><circle cx="204.5" cy="212.5" r="3"/><circle cx="208.5" cy="170.5" r="3"/><circle cx="204.5" cy="189.5" r="3"/><circle cx="206.5" cy="174.5" r="3"/><circle cx="240.5" cy="233.5" r="3"/><circle cx="239.5" cy="219.5" r="3"/><circle cx="238.5" cy="229.5" r="3"/><circle cx="239.5" cy="233.5" r="3"/><circle cx="271.5" cy="217.5" r="3"/><circle cx="271.5" cy="217.5" r="3"/><circle cx="269.5" cy="214.5" r="3"/><circle cx="274.5" cy="213.5" r="3"/><circle cx="273.5" cy="209.5" r="3"/><circle cx="272.5" cy="211.5" r="3"/><circle cx="302.5" cy="193.5" r="3"/><circle cx="304.5" cy="172.5" r="3"/><circle cx="303.5" cy="177.5" r="3"/><circle cx="304.5" cy="195.5" r="3"/><circle cx="302.5" cy="162.5" r="3"/><circle cx="300.5" cy="154.5" r="3"/><circle cx="298.5" cy="172.5" r="3"/><circle cx="300.5" cy="181.5" r="3"/><circle cx="298.5" cy="176.5" r="3"/><circle cx="303.5" cy="167.5" r="3"/><circle cx="303.5" cy="163.5" r="3"/><circle cx="303.5" cy="172.5" r="3"/><circle cx="301.5" cy="197.5" r="3"/><circle cx="302.5" cy="180.5" r="3"/><circle cx="302.5" cy="206.5" r="3"/><circle cx="297.5" cy="175.5" r="3"/><circle cx="334.5" cy="212.5" r="3"/><circle cx="334.5" cy="189.5" r="3"/><circle cx="335.5" cy="155.5" r="3"/><circle cx="335.5" cy="211.5" r="3"/><circle cx="334.5" cy="191.5" r="3"/><circle cx="336.5" cy="191.5" r="3"/><circle cx="333.5" cy="179.5" r="3"/><circle cx="334.5" cy="185.5" r="3"/><circle cx="335.5" cy="187.5" r="3"/><circle cx="332.5" cy="202.5" r="3"/><circle cx="337.5" cy="194.5" r="3"/><circle cx="332.5" cy="164.5" r="3"/><circle cx="333.5" cy="171.5" r="3"/><circle cx="334.5" cy="195.5" r="3"/><circle cx="332.5" cy="200.5" r="3"/><circle cx="337.5" cy="173.5" r="3"/><circle cx="336.5" cy="188.5" r="3"/><circle cx="338.5" cy="200.5" r="3"/><circle cx="338.5" cy="185.5" r="3"/><circle cx="335.5" cy="181.5" r="3"/><circle cx="335.5" cy="159.5" r="3"/><circle cx="338.5" cy="200.5" r="3"/><circle cx="337.5" cy="202.5" r="3"/><circle cx="336.5" cy="169.5" r="3"/><circle cx="365.5" cy="194.5" r="3"/><circle cx="366.5" cy="187.5" r="3"/><circle cx="365.5" cy="197.5" r="3"/><circle cx="365.5" cy="195.5" r="3"/><circle cx="404.5" cy="208.5" r="3"/><circle cx="404.5" cy="184.5" r="3"/><circle cx="402.5" cy="194.5" r="3"/><circle cx="404.5" cy="216.5" r="3"/><circle cx="398.5" cy="201.5" r="3"/><circle cx="403.5" cy="170.5" r="3"/><circle cx="398.5" cy="220.5" r="3"/><circle cx="401.5" cy="218.5" r="3"/><circle cx="396.5" cy="222.5" r="3"/><circle cx="399.5" cy="200.5" r="3"/><circle cx="397.5" cy="188.5" r="3"/><circle cx="396.5" cy="200.5" r="3"/><circle cx="403.5" cy="217.5" r="3"/><circle cx="397.5" cy="211.5" r="3"/><circle cx="400.5" cy="205.5" r="3"/><circle cx="397.5" cy="189.5" r="3"/><circle cx="403.5" cy="217.5" r="3"/><circle cx="399.5" cy="214.5" r="3"/><circle cx="399.5" cy="217.5" r="3"/><circle cx="397.5" cy="199.5" r="3"/><circle cx="397.5" cy="216.5" r="3"/><circle cx="396.5" cy="205.5" r="3"/><circle cx="398.5" cy="186.5" r="3"/><circle cx="396.5" cy="196.5" r="3"/><circle cx="402.5" cy="180.5" r="3"/><circle cx="399.5" cy="201.5" r="3"/><circle cx="395.5" cy="211.5" r="3"/><circle cx="402.5" cy="181.5" r="3"/><circle cx="398.5" cy="201.5" r="3"/><circle cx="403.5" cy="208.5" r="3"/><circle cx="398.5" cy="213.5" r="3"/><circle cx="401.5" cy="185.5" r="3"/><circle cx="434.5" cy="201.5" r="3"/><circle cx="427.5" cy="211.5" r="3"/><circle cx="429.5" cy="181.5" r="3"/><circle cx="433.5" cy="209.5" r="3"/><circle cx="431.5" cy="212.5" r="3"/><circle cx="432.5" cy="194.5" r="3"/><circle cx="431.5" cy="188.5" r="3"/><circle cx="430.5" cy="216.5" r="3"/><circle cx="430.5" cy="182.5" r="3"/><circle cx="429.5" cy="214.5" r="3"/><circle cx="432.5" cy="166.5" r="3"/><circle cx="434.5" cy="210.5" r="3"/><circle cx="435.5" cy="208.5" r="3"/><circle cx="432.5" cy="213.5" r="3"/><circle cx="435.5" cy="181.5" r="3"/><circle cx="427.5" cy="209.5" r="3"/><circle cx="428.5" cy="169.5" r="3"/><circle cx="436.5" cy="176.5" r="3"/><circle cx="428.5" cy="210.5" r="3"/><circle cx="436.5" cy="208.5" r="3"/><circle cx="430.5" cy="175.5" r="3"/><circle cx="429.5" cy="202.5" r="3"/><circle cx="464.5" cy="205.5" r="3"/><circle cx="462.5" cy="198.5" r="3"/><circle cx="461.5" cy="203.5" r="3"/><circle cx="463.5" cy="202.5" r="3"/><circle cx="528.5" cy="231.5" r="3"/><circle cx="526.5" cy="187.5" r="3"/><circle cx="527.5" cy="203.5" r="3"/><circle cx="529.5" cy="231.5" r="3"/><circle cx="528.5" cy="201.5" r="3"/><circle cx="524.5" cy="223.5" r="3"/><circle cx="524.5" cy="227.5" r="3"/><circle cx="527.5" cy="204.5" r="3"/><circle cx="525.5" cy="227.5" r="3"/><circle cx="525.5" cy="210.5" r="3"/><circle cx="559.5" cy="188.5" r="3"/><circle cx="559.5" cy="191.5" r="3"/><circle cx="562.5" cy="192.5" r="3"/><circle cx="557.5" cy="191.5" r="3"/><circle cx="559.5" cy="203.5" r="3"/><circle cx="558.5" cy="203.5" r="3"/><circle cx="557.5" cy="199.5" r="3"/><circle cx="561.5" cy="197.5" r="3"/><circle cx="561.5" cy="196.5" r="3"/><circle cx="105.5" cy="199.5" r="3"/><circle cx="111.5" cy="197.5" r="3"/><circle cx="174.5" cy="184.5" r="3"/><circle cx="176.5" cy="196.5" r="3"/><circle cx="101.5" cy="278.5" r="3"/><circle cx="101.5" cy="293.5" r="3"/><circle cx="101.5" cy="306.5" r="3"/><circle cx="114.5" cy="301.5" r="3"/><circle cx="113.5" cy="288.5" r="3"/><circle cx="125.5" cy="297.5" r="3"/><circle cx="129.5" cy="296.5" r="3"/><circle cx="129.5" cy="316.5" r="3"/><circle cx="137.5" cy="317.5" r="3"/><circle cx="137.5" cy="320.5" r="3"/><circle cx="138.5" cy="286.5" r="3"/><circle cx="138.5" cy="276.5" r="3"/><circle cx="105.5" cy="269.5" r="3"/><circle cx="110.5" cy="278.5" r="3"/><circle cx="116.5" cy="282.5" r="3"/><circle cx="129.5" cy="280.5" r="3"/><circle cx="150.5" cy="277.5" r="3"/><circle cx="153.5" cy="291.5" r="3"/><circle cx="153.5" cy="298.5" r="3"/><circle cx="158.5" cy="286.5" r="3"/><circle cx="158.5" cy="291.5" r="3"/><circle cx="159.5" cy="298.5" r="3"/><circle cx="159.5" cy="305.5" r="3"/><circle cx="166.5" cy="289.5" r="3"/><circle cx="164.5" cy="300.5" r="3"/><circle cx="169.5" cy="297.5" r="3"/><circle cx="168.5" cy="309.5" r="3"/><circle cx="158.5" cy="318.5" r="3"/><circle cx="165.5" cy="321.5" r="3"/><circle cx="177.5" cy="323.5" r="3"/><circle cx="179.5" cy="283.5" r="3"/><circle cx="178.5" cy="295.5" r="3"/><circle cx="188.5" cy="289.5" r="3"/><circle cx="188.5" cy="297.5" r="3"/><circle cx="195.5" cy="278.5" r="3"/><circle cx="201.5" cy="280.5" r="3"/><circle cx="201.5" cy="290.5" r="3"/><circle cx="200.5" cy="301.5" r="3"/><circle cx="195.5" cy="315.5" r="3"/><circle cx="209.5" cy="282.5" r="3"/><circle cx="213.5" cy="292.5" r="3"/><circle cx="212.5" cy="316.5" r="3"/><circle cx="209.5" cy="324.5" r="3"/><circle cx="198.5" cy="268.5" r="3"/><circle cx="179.5" cy="269.5" r="3"/><circle cx="188.5" cy="271.5" r="3"/><circle cx="195.5" cy="367.5" r="3"/><circle cx="270.5" cy="179.5" r="3"/><circle cx="271.5" cy="184.5" r="3"/><circle cx="270.5" cy="195.5" r="3"/><circle cx="274.5" cy="197.5" r="3"/><circle cx="274.5" cy="204.5" r="3"/><circle cx="271.5" cy="210.5" r="3"/><circle cx="237.5" cy="210.5" r="3"/><circle cx="239.5" cy="217.5" r="3"/><circle cx="237.5" cy="222.5" r="3"/><circle cx="238.5" cy="229.5" r="3"/><circle cx="222.5" cy="220.5" r="3"/><circle cx="229.5" cy="222.5" r="3"/><circle cx="229.5" cy="228.5" r="3"/><circle cx="336.5" cy="94.5" r="3"/><circle cx="336.5" cy="98.5" r="3"/><circle cx="336.5" cy="105.5" r="3"/><circle cx="335.5" cy="123.5" r="3"/><circle cx="335.5" cy="139.5" r="3"/><circle cx="334.5" cy="142.5" r="3"/><circle cx="337.5" cy="144.5" r="3"/><circle cx="332.5" cy="151.5" r="3"/><circle cx="302.5" cy="152.5" r="3"/><circle cx="224.5" cy="286.5" r="3"/><circle cx="233.5" cy="285.5" r="3"/><circle cx="235.5" cy="293.5" r="3"/><circle cx="233.5" cy="297.5" r="3"/><circle cx="247.5" cy="284.5" r="3"/><circle cx="245.5" cy="292.5" r="3"/><circle cx="246.5" cy="301.5" r="3"/><circle cx="248.5" cy="302.5" r="3"/><circle cx="257.5" cy="286.5" r="3"/><circle cx="266.5" cy="297.5" r="3"/><circle cx="270.5" cy="294.5" r="3"/><circle cx="266.5" cy="306.5" r="3"/><circle cx="232.5" cy="307.5" r="3"/><circle cx="224.5" cy="313.5" r="3"/><circle cx="233.5" cy="323.5" r="3"/><circle cx="226.5" cy="327.5" r="3"/><circle cx="256.5" cy="326.5" r="3"/><circle cx="282.5" cy="324.5" r="3"/><circle cx="292.5" cy="323.5" r="3"/><circle cx="287.5" cy="318.5" r="3"/><circle cx="281.5" cy="313.5" r="3"/><circle cx="283.5" cy="310.5" r="3"/><circle cx="284.5" cy="302.5" r="3"/><circle cx="292.5" cy="303.5" r="3"/><circle cx="296.5" cy="294.5" r="3"/><circle cx="285.5" cy="290.5" r="3"/><circle cx="284.5" cy="286.5" r="3"/><circle cx="296.5" cy="284.5" r="3"/><circle cx="296.5" cy="274.5" r="3"/><circle cx="297.5" cy="266.5" r="3"/><circle cx="313.5" cy="286.5" r="3"/><circle cx="309.5" cy="282.5" r="3"/><circle cx="317.5" cy="311.5" r="3"/><circle cx="346.5" cy="287.5" r="3"/><circle cx="347.5" cy="271.5" r="3"/><circle cx="337.5" cy="260.5" r="3"/><circle cx="324.5" cy="270.5" r="3"/><circle cx="273.5" cy="281.5" r="3"/><circle cx="273.5" cy="273.5" r="3"/><circle cx="261.5" cy="278.5" r="3"/><circle cx="248.5" cy="277.5" r="3"/><circle cx="259.5" cy="268.5" r="3"/><circle cx="224.5" cy="313.5" r="3"/><circle cx="233.5" cy="323.5" r="3"/><circle cx="226.5" cy="327.5" r="3"/><circle cx="225.5" cy="330.5" r="3"/><circle cx="225.5" cy="337.5" r="3"/><circle cx="256.5" cy="326.5" r="3"/><circle cx="282.5" cy="324.5" r="3"/><circle cx="292.5" cy="323.5" r="3"/><circle cx="287.5" cy="318.5" r="3"/><circle cx="281.5" cy="313.5" r="3"/><circle cx="317.5" cy="311.5" r="3"/><circle cx="261.5" cy="349.5" r="3"/><circle cx="309.5" cy="360.5" r="3"/><circle cx="224.5" cy="366.5" r="3"/><circle cx="394.5" cy="121.5" r="3"/><circle cx="463.5" cy="125.5" r="3"/><circle cx="428.5" cy="138.5" r="3"/><circle cx="430.5" cy="140.5" r="3"/><circle cx="434.5" cy="138.5" r="3"/><circle cx="433.5" cy="152.5" r="3"/><circle cx="428.5" cy="157.5" r="3"/><circle cx="434.5" cy="162.5" r="3"/><circle cx="434.5" cy="165.5" r="3"/><circle cx="367.5" cy="157.5" r="3"/><circle cx="394.5" cy="155.5" r="3"/><circle cx="463.5" cy="156.5" r="3"/><circle cx="464.5" cy="159.5" r="3"/><circle cx="464.5" cy="163.5" r="3"/><circle cx="464.5" cy="168.5" r="3"/><circle cx="463.5" cy="173.5" r="3"/><circle cx="397.5" cy="169.5" r="3"/><circle cx="396.5" cy="172.5" r="3"/><circle cx="399.5" cy="175.5" r="3"/><circle cx="366.5" cy="177.5" r="3"/><circle cx="425.5" cy="169.5" r="3"/><circle cx="366.5" cy="178.5" r="3"/><circle cx="366.5" cy="185.5" r="3"/><circle cx="366.5" cy="190.5" r="3"/><circle cx="366.5" cy="194.5" r="3"/><circle cx="394.5" cy="154.5" r="3"/><circle cx="433.5" cy="152.5" r="3"/><circle cx="428.5" cy="157.5" r="3"/><circle cx="434.5" cy="181.5" r="3"/><circle cx="434.5" cy="189.5" r="3"/><circle cx="463.5" cy="194.5" r="3"/><circle cx="461.5" cy="195.5" r="3"/><circle cx="455.5" cy="206.5" r="3"/><circle cx="493.5" cy="187.5" r="3"/><circle cx="493.5" cy="198.5" r="3"/><circle cx="494.5" cy="206.5" r="3"/><circle cx="364.5" cy="292.5" r="3"/><circle cx="368.5" cy="284.5" r="3"/><circle cx="387.5" cy="294.5" r="3"/><circle cx="403.5" cy="290.5" r="3"/><circle cx="413.5" cy="294.5" r="3"/><circle cx="413.5" cy="323.5" r="3"/><circle cx="446.5" cy="310.5" r="3"/><circle cx="445.5" cy="315.5" r="3"/><circle cx="456.5" cy="305.5" r="3"/><circle cx="458.5" cy="299.5" r="3"/><circle cx="454.5" cy="295.5" r="3"/><circle cx="439.5" cy="289.5" r="3"/><circle cx="474.5" cy="299.5" r="3"/><circle cx="474.5" cy="306.5" r="3"/><circle cx="476.5" cy="323.5" r="3"/><circle cx="486.5" cy="292.5" r="3"/><circle cx="493.5" cy="294.5" r="3"/><circle cx="485.5" cy="283.5" r="3"/><circle cx="485.5" cy="273.5" r="3"/><circle cx="476.5" cy="279.5" r="3"/><circle cx="476.5" cy="285.5" r="3"/><circle cx="470.5" cy="280.5" r="3"/><circle cx="470.5" cy="283.5" r="3"/><circle cx="497.5" cy="296.5" r="3"/><circle cx="497.5" cy="312.5" r="3"/><circle cx="363.5" cy="255.5" r="3"/><circle cx="363.5" cy="267.5" r="3"/><circle cx="364.5" cy="275.5" r="3"/><circle cx="374.5" cy="262.5" r="3"/><circle cx="374.5" cy="269.5" r="3"/><circle cx="380.5" cy="256.5" r="3"/><circle cx="380.5" cy="266.5" r="3"/><circle cx="386.5" cy="257.5" r="3"/><circle cx="387.5" cy="265.5" r="3"/><circle cx="387.5" cy="272.5" r="3"/><circle cx="392.5" cy="270.5" r="3"/><circle cx="403.5" cy="250.5" r="3"/><circle cx="403.5" cy="262.5" r="3"/><circle cx="403.5" cy="269.5" r="3"/><circle cx="409.5" cy="257.5" r="3"/><circle cx="409.5" cy="263.5" r="3"/><circle cx="408.5" cy="278.5" r="3"/><circle cx="410.5" cy="281.5" r="3"/><circle cx="413.5" cy="267.5" r="3"/><circle cx="415.5" cy="273.5" r="3"/><circle cx="421.5" cy="262.5" r="3"/><circle cx="421.5" cy="272.5" r="3"/><circle cx="422.5" cy="250.5" r="3"/><circle cx="430.5" cy="242.5" r="3"/><circle cx="436.5" cy="256.5" r="3"/><circle cx="439.5" cy="261.5" r="3"/><circle cx="440.5" cy="270.5" r="3"/><circle cx="445.5" cy="280.5" r="3"/><circle cx="447.5" cy="286.5" r="3"/><circle cx="453.5" cy="285.5" r="3"/><circle cx="459.5" cy="280.5" r="3"/><circle cx="459.5" cy="286.5" r="3"/><circle cx="459.5" cy="290.5" r="3"/><circle cx="449.5" cy="290.5" r="3"/><circle cx="466.5" cy="259.5" r="3"/><circle cx="468.5" cy="272.5" r="3"/><circle cx="474.5" cy="261.5" r="3"/><circle cx="485.5" cy="261.5" r="3"/><circle cx="491.5" cy="258.5" r="3"/><circle cx="413.5" cy="323.5" r="3"/><circle cx="476.5" cy="323.5" r="3"/><circle cx="528.5" cy="149.5" r="3"/><circle cx="527.5" cy="165.5" r="3"/><circle cx="526.5" cy="171.5" r="3"/><circle cx="527.5" cy="177.5" r="3"/><circle cx="560.5" cy="177.5" r="3"/><circle cx="560.5" cy="184.5" r="3"/><circle cx="557.5" cy="185.5" r="3"/><circle cx="541.5" cy="211.5" r="3"/><circle cx="573.5" cy="209.5" r="3"/><circle cx="526.5" cy="186.5" r="3"/><circle cx="528.5" cy="190.5" r="3"/><circle cx="522.5" cy="193.5" r="3"/><circle cx="527.5" cy="204.5" r="3"/><circle cx="525.5" cy="214.5" r="3"/><circle cx="524.5" cy="219.5" r="3"/><circle cx="500.5" cy="279.5" r="3"/><circle cx="500.5" cy="298.5" r="3"/><circle cx="500.5" cy="312.5" r="3"/><circle cx="508.5" cy="294.5" r="3"/><circle cx="510.5" cy="287.5" r="3"/><circle cx="517.5" cy="279.5" r="3"/><circle cx="520.5" cy="285.5" r="3"/><circle cx="522.5" cy="294.5" r="3"/><circle cx="530.5" cy="290.5" r="3"/><circle cx="536.5" cy="279.5" r="3"/><circle cx="536.5" cy="266.5" r="3"/><circle cx="542.5" cy="283.5" r="3"/><circle cx="543.5" cy="290.5" r="3"/><circle cx="544.5" cy="300.5" r="3"/><circle cx="546.5" cy="307.5" r="3"/><circle cx="549.5" cy="284.5" r="3"/><circle cx="555.5" cy="274.5" r="3"/><circle cx="548.5" cy="270.5" r="3"/><circle cx="563.5" cy="278.5" r="3"/><circle cx="566.5" cy="290.5" r="3"/><circle cx="563.5" cy="299.5" r="3"/><circle cx="564.5" cy="304.5" r="3"/><circle cx="569.5" cy="272.5" r="3"/><circle cx="570.5" cy="266.5" r="3"/><circle cx="577.5" cy="287.5" r="3"/><circle cx="579.5" cy="293.5" r="3"/><circle cx="589.5" cy="274.5" r="3"/><circle cx="597.5" cy="279.5" r="3"/><circle cx="597.5" cy="290.5" r="3"/><circle cx="603.5" cy="287.5" r="3"/><circle cx="604.5" cy="278.5" r="3"/><circle cx="610.5" cy="285.5" r="3"/><circle cx="610.5" cy="273.5" r="3"/><circle cx="604.5" cy="307.5" r="3"/><circle cx="605.5" cy="323.5" r="3"/><circle cx="598.5" cy="268.5" r="3"/><circle cx="604.5" cy="268.5" r="3"/><circle cx="555.5" cy="252.5" r="3"/><circle cx="544.5" cy="258.5" r="3"/><circle cx="500.5" cy="312.5" r="3"/><circle cx="537.5" cy="334.5" r="3"/><circle cx="520.5" cy="349.5" r="3"/><circle cx="544.5" cy="370.5" r="3"/><circle cx="605.5" cy="323.5" r="3"/><circle cx="602.5" cy="336.5" r="3"/>
</g>
<g fill="#0000FF" stroke="none" shape-rendering="crispEdges">
<circle cx="142.5" cy="209.5" r="3.5"/><circle cx="109.5" cy="227.5" r="3.5"/><circle cx="102.5" cy="234.5" r="3.5"/><circle cx="134.5" cy="237.5" r="3.5"/><circle cx="149.5" cy="236.5" r="3.5"/><circle cx="125.5" cy="247.5" r="3.5"/><circle cx="173.5" cy="246.5" r="3.5"/><circle cx="197.5" cy="228.5" r="3.5"/><circle cx="191.5" cy="249.5" r="3.5"/><circle cx="213.5" cy="251.5" r="3.5"/><circle cx="181.5" cy="252.5" r="3.5"/><circle cx="117.5" cy="265.5" r="3.5"/><circle cx="165.5" cy="262.5" r="3.5"/><circle cx="157.5" cy="267.5" r="3.5"/><circle cx="208.5" cy="272.5" r="3.5"/><circle cx="335.5" cy="204.5" r="3.5"/><circle cx="325.5" cy="222.5" r="3.5"/><circle cx="349.5" cy="222.5" r="3.5"/><circle cx="341.5" cy="226.5" r="3.5"/><circle cx="302.5" cy="237.5" r="3.5"/><circle cx="293.5" cy="241.5" r="3.5"/><circle cx="255.5" cy="243.5" r="3.5"/><circle cx="229.5" cy="244.5" r="3.5"/><circle cx="245.5" cy="246.5" r="3.5"/><circle cx="277.5" cy="247.5" r="3.5"/><circle cx="317.5" cy="251.5" r="3.5"/><circle cx="285.5" cy="252.5" r="3.5"/><circle cx="357.5" cy="247.5" r="3.5"/><circle cx="237.5" cy="254.5" r="3.5"/><circle cx="270.5" cy="263.5" r="3.5"/><circle cx="309.5" cy="295.5" r="3.5"/><circle cx="223.5" cy="303.5" r="3.5"/><circle cx="261.5" cy="304.5" r="3.5"/><circle cx="365.5" cy="202.5" r="3.5"/><circle cx="389.5" cy="212.5" r="3.5"/><circle cx="398.5" cy="210.5" r="3.5"/><circle cx="383.5" cy="217.5" r="3.5"/><circle cx="373.5" cy="231.5" r="3.5"/><circle cx="405.5" cy="230.5" r="3.5"/><circle cx="413.5" cy="225.5" r="3.5"/><circle cx="422.5" cy="223.5" r="3.5"/><circle cx="432.5" cy="216.5" r="3.5"/><circle cx="437.5" cy="219.5" r="3.5"/><circle cx="446.5" cy="230.5" r="3.5"/><circle cx="453.5" cy="232.5" r="3.5"/><circle cx="461.5" cy="200.5" r="3.5"/><circle cx="469.5" cy="236.5" r="3.5"/><circle cx="478.5" cy="227.5" r="3.5"/><circle cx="486.5" cy="215.5" r="3.5"/><circle cx="494.5" cy="230.5" r="3.5"/><circle cx="542.5" cy="218.5" r="3.5"/><circle cx="558.5" cy="219.5" r="3.5"/><circle cx="581.5" cy="215.5" r="3.5"/><circle cx="574.5" cy="219.5" r="3.5"/><circle cx="526.5" cy="226.5" r="3.5"/><circle cx="565.5" cy="234.5" r="3.5"/><circle cx="589.5" cy="233.5" r="3.5"/><circle cx="605.5" cy="230.5" r="3.5"/><circle cx="511.5" cy="240.5" r="3.5"/><circle cx="533.5" cy="242.5" r="3.5"/><circle cx="517.5" cy="257.5" r="3.5"/><circle cx="501.5" cy="271.5" r="3.5"/><circle cx="549.5" cy="277.5" r="3.5"/><circle cx="597.5" cy="315.5" r="3.5"/>
</g>
<g fill="#A020F0" stroke="none" shape-rendering="crispEdges">
<circle cx="141.5" cy="158.5" r="3.5"/><circle cx="141.5" cy="167.5" r="3.5"/><circle cx="142.5" cy="174.5" r="3.5"/><circle cx="108.5" cy="179.5" r="3.5"/><circle cx="111.5" cy="190.5" r="3.5"/><circle cx="142.5" cy="194.5" r="3.5"/><circle cx="138.5" cy="202.5" r="3.5"/><circle cx="105.5" cy="212.5" r="3.5"/><circle cx="99.5" cy="226.5" r="3.5"/><circle cx="138.5" cy="223.5" r="3.5"/><circle cx="127.5" cy="228.5" r="3.5"/><circle cx="128.5" cy="231.5" r="3.5"/><circle cx="205.5" cy="160.5" r="3.5"/><circle cx="206.5" cy="183.5" r="3.5"/><circle cx="206.5" cy="193.5" r="3.5"/><circle cx="204.5" cy="195.5" r="3.5"/><circle cx="175.5" cy="200.5" r="3.5"/><circle cx="194.5" cy="212.5" r="3.5"/><circle cx="170.5" cy="225.5" r="3.5"/><circle cx="193.5" cy="220.5" r="3.5"/><circle cx="190.5" cy="228.5" r="3.5"/><circle cx="195.5" cy="223.5" r="3.5"/><circle cx="199.5" cy="224.5" r="3.5"/><circle cx="204.5" cy="222.5" r="3.5"/><circle cx="302.5" cy="123.5" r="3.5"/><circle cx="297.5" cy="134.5" r="3.5"/><circle cx="297.5" cy="154.5" r="3.5"/><circle cx="297.5" cy="164.5" r="3.5"/><circle cx="303.5" cy="163.5" r="3.5"/><circle cx="303.5" cy="168.5" r="3.5"/><circle cx="297.5" cy="178.5" r="3.5"/><circle cx="303.5" cy="179.5" r="3.5"/><circle cx="300.5" cy="183.5" r="3.5"/><circle cx="297.5" cy="196.5" r="3.5"/><circle cx="298.5" cy="200.5" r="3.5"/><circle cx="298.5" cy="206.5" r="3.5"/><circle cx="336.5" cy="129.5" r="3.5"/><circle cx="333.5" cy="156.5" r="3.5"/><circle cx="337.5" cy="165.5" r="3.5"/><circle cx="328.5" cy="183.5" r="3.5"/><circle cx="328.5" cy="202.5" r="3.5"/><circle cx="343.5" cy="215.5" r="3.5"/><circle cx="351.5" cy="211.5" r="3.5"/><circle cx="352.5" cy="214.5" r="3.5"/><circle cx="264.5" cy="204.5" r="3.5"/><circle cx="267.5" cy="204.5" r="3.5"/><circle cx="258.5" cy="220.5" r="3.5"/><circle cx="267.5" cy="221.5" r="3.5"/><circle cx="251.5" cy="227.5" r="3.5"/><circle cx="254.5" cy="227.5" r="3.5"/><circle cx="221.5" cy="226.5" r="3.5"/><circle cx="223.5" cy="229.5" r="3.5"/><circle cx="396.5" cy="159.5" r="3.5"/><circle cx="394.5" cy="161.5" r="3.5"/><circle cx="429.5" cy="166.5" r="3.5"/><circle cx="430.5" cy="172.5" r="3.5"/><circle cx="426.5" cy="176.5" r="3.5"/><circle cx="429.5" cy="180.5" r="3.5"/><circle cx="431.5" cy="177.5" r="3.5"/><circle cx="430.5" cy="183.5" r="3.5"/><circle cx="425.5" cy="185.5" r="3.5"/><circle cx="426.5" cy="189.5" r="3.5"/><circle cx="426.5" cy="193.5" r="3.5"/><circle cx="419.5" cy="201.5" r="3.5"/><circle cx="444.5" cy="214.5" r="3.5"/><circle cx="444.5" cy="217.5" r="3.5"/><circle cx="463.5" cy="180.5" r="3.5"/><circle cx="492.5" cy="138.5" r="3.5"/><circle cx="493.5" cy="165.5" r="3.5"/><circle cx="394.5" cy="186.5" r="3.5"/><circle cx="394.5" cy="195.5" r="3.5"/><circle cx="392.5" cy="199.5" r="3.5"/><circle cx="385.5" cy="200.5" r="3.5"/><circle cx="384.5" cy="204.5" r="3.5"/><circle cx="383.5" cy="208.5" r="3.5"/><circle cx="379.5" cy="216.5" r="3.5"/><circle cx="483.5" cy="206.5" r="3.5"/><circle cx="482.5" cy="211.5" r="3.5"/><circle cx="479.5" cy="216.5" r="3.5"/><circle cx="527.5" cy="146.5" r="3.5"/><circle cx="527.5" cy="162.5" r="3.5"/><circle cx="527.5" cy="169.5" r="3.5"/><circle cx="526.5" cy="182.5" r="3.5"/><circle cx="527.5" cy="194.5" r="3.5"/><circle cx="522.5" cy="198.5" r="3.5"/><circle cx="522.5" cy="209.5" r="3.5"/><circle cx="514.5" cy="210.5" r="3.5"/><circle cx="512.5" cy="212.5" r="3.5"/><circle cx="510.5" cy="214.5" r="3.5"/><circle cx="541.5" cy="215.5" r="3.5"/><circle cx="556.5" cy="194.5" r="3.5"/><circle cx="559.5" cy="200.5" r="3.5"/><circle cx="578.5" cy="208.5" r="3.5"/><circle cx="576.5" cy="211.5" r="3.5"/><circle cx="574.5" cy="214.5" r="3.5"/><circle cx="572.5" cy="217.5" r="3.5"/><circle cx="609.5" cy="198.5" r="3.5"/><circle cx="608.5" cy="206.5" r="3.5"/><circle cx="610.5" cy="211.5" r="3.5"/><circle cx="607.5" cy="215.5" r="3.5"/><circle cx="601.5" cy="214.5" r="3.5"/>
</g>
</g>
<!-- axes -->
<g stroke="#000000" stroke-width="1" fill="none" shape-rendering="crispEdges">
<line x1="171.5" y1="382.5" x2="491.5" y2="382.5"/>
<line x1="171.5" y1="382" x2="171.5" y2="392"/>
<line x1="331.5" y1="382" x2="331.5" y2="392"/>
<line x1="491.5" y1="382" x2="491.5" y2="392"/>
<line x1="78.5" y1="100" x2="78.5" y2="382"/>
<line x1="69" y1="100.5" x2="79" y2="100.5"/>
<line x1="69" y1="185.5" x2="79" y2="185.5"/>
<line x1="69" y1="296.5" x2="79" y2="296.5"/>
<line x1="69" y1="381.5" x2="79" y2="381.5"/>
<rect x="78.5" y="78.5" width="553" height="304"/>
</g>
<!-- axis labels -->
<g text-anchor="middle">
<text x="170.8" y="417">2010</text>
<text x="330.8" y="417">2015</text>
<text x="490.8" y="417">2020</text>
<text x="355" y="456">Date</text>
<text transform="translate(56,100.5) rotate(-90)">1000</text>
<text transform="translate(56,185.5) rotate(-90)">500</text>
<text transform="translate(56,296.5) rotate(-90)">200</text>
<text transform="translate(56,381) rotate(-90)">100</text>
<text transform="translate(18,230.5) rotate(-90)">Specific Conductance (uS/cm)</text>
</g>
<!-- legend -->
<g shape-rendering="crispEdges" stroke="#000000" stroke-width="1">
<rect x="78.5" y="78.5" width="181" height="77" fill="#ffffff"/>
<rect x="93.5" y="93.5" width="11" height="9" fill="#BEBEBE"/>
<rect x="93.5" y="112.5" width="11" height="9" fill="#0000FF"/>
<rect x="93.5" y="131.5" width="11" height="10" fill="#A020F0"/>
</g>
<text x="118.8" y="105" textLength="90.5" lengthAdjust="spacing">Not Selected</text>
<text x="118.8" y="124.2" textLength="115.2" lengthAdjust="spacing">Below Threshold</text>
<text x="118.8" y="143.4" textLength="133.2" lengthAdjust="spacing">Exceeds Threshold</text>
</svg>
</body>
</html>
